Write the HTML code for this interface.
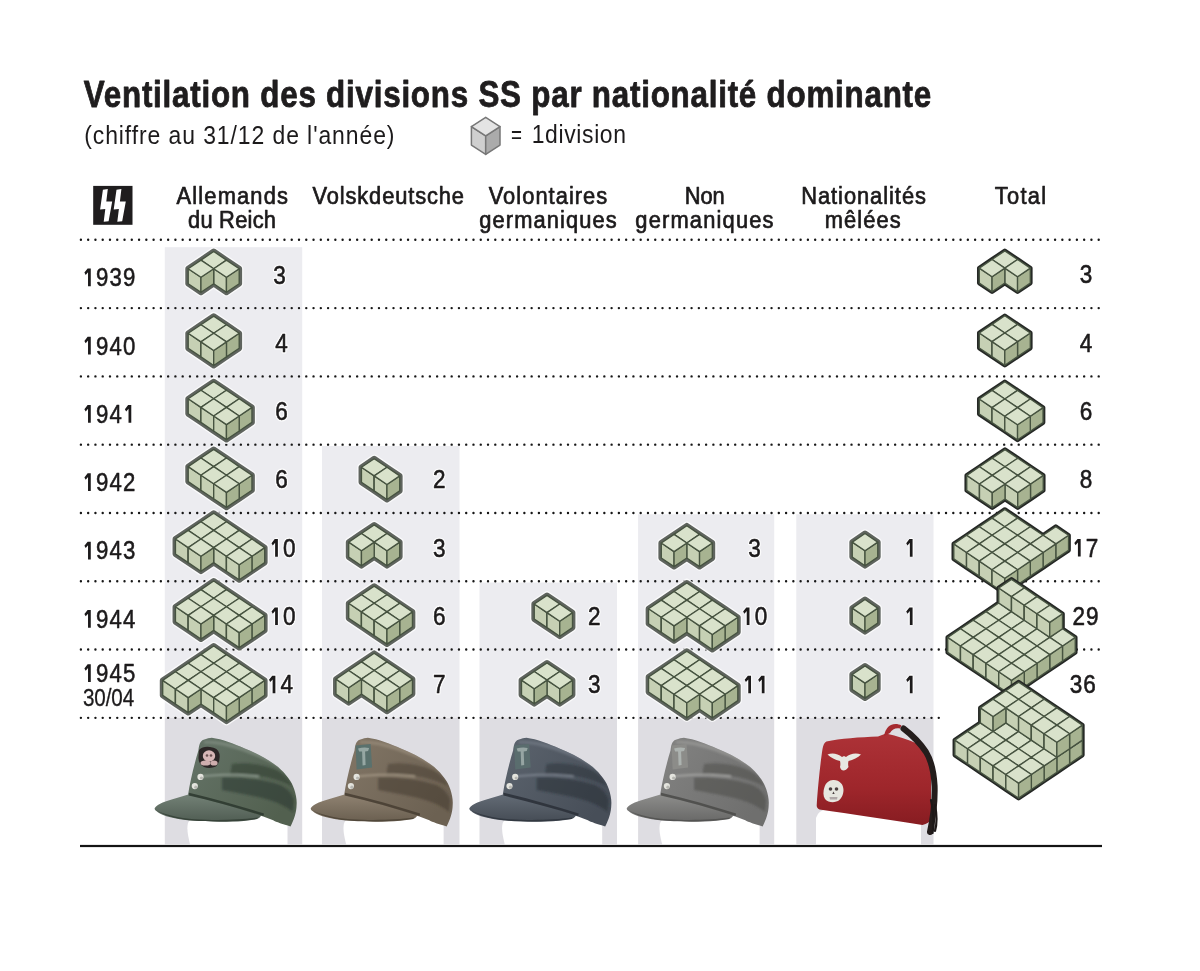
<!DOCTYPE html>
<html><head><meta charset="utf-8"><style>
html,body{margin:0;padding:0;background:#fff;width:1200px;height:971px;overflow:hidden}
svg{display:block;font-family:"Liberation Sans", sans-serif;will-change:transform}
</style></head><body>
<svg width="1200" height="971" viewBox="0 0 1200 971"><defs>
<filter id="soft" x="-10%" y="-10%" width="120%" height="120%"><feGaussianBlur stdDeviation="0.9"/></filter>
<clipPath id="crownclip"><path d="M188.1,794.4 C190,782 194,765 198.4,750.6 C199,745 200,741 203.6,739.8 C207,738.4 209.5,737.7 211.8,737.7 C222,739 235,744 244.7,748.5 C255,752.5 268,759 278.1,767.1 C286,774 292,782 294.2,789.3 C296,795 297,800 296.6,805 C296.5,812 294,820 290.5,826.4 C283,824 276,822 273.2,820.2 L263.3,816.5 L230,806 Z"/></clipPath>
<linearGradient id="vis1" x1="0" y1="0" x2="0" y2="1"><stop offset="0" stop-color="#748277"/><stop offset="1" stop-color="#505d53"/></linearGradient>
<linearGradient id="vis2" x1="0" y1="0" x2="0" y2="1"><stop offset="0" stop-color="#908372"/><stop offset="1" stop-color="#6a5f50"/></linearGradient>
<linearGradient id="vis3" x1="0" y1="0" x2="0" y2="1"><stop offset="0" stop-color="#646c76"/><stop offset="1" stop-color="#454c55"/></linearGradient>
<linearGradient id="vis4" x1="0" y1="0" x2="0" y2="1"><stop offset="0" stop-color="#8e8e8c"/><stop offset="1" stop-color="#686867"/></linearGradient>
<linearGradient id="crown1" x1="0" y1="0" x2="1" y2="0.6"><stop offset="0" stop-color="#657468"/><stop offset="1" stop-color="#52604f"/></linearGradient>
<linearGradient id="crown2" x1="0" y1="0" x2="1" y2="0.6"><stop offset="0" stop-color="#827666"/><stop offset="1" stop-color="#6c6152"/></linearGradient>
<linearGradient id="crown3" x1="0" y1="0" x2="1" y2="0.6"><stop offset="0" stop-color="#5c646e"/><stop offset="1" stop-color="#474e58"/></linearGradient>
<linearGradient id="crown4" x1="0" y1="0" x2="1" y2="0.6"><stop offset="0" stop-color="#838382"/><stop offset="1" stop-color="#6f6f6e"/></linearGradient>
<linearGradient id="fez" x1="0" y1="0" x2="0" y2="1"><stop offset="0" stop-color="#ad3237"/><stop offset="0.6" stop-color="#9e262b"/><stop offset="1" stop-color="#871c21"/></linearGradient>
</defs><rect x="164.8" y="247.2" width="137.4" height="470.63" fill="#ececf0"/><rect x="164.8" y="717.83" width="137.4" height="126.47" fill="#dedde2"/><rect x="322" y="445.97" width="137.5" height="271.86" fill="#ececf0"/><rect x="322" y="717.83" width="137.5" height="126.47" fill="#dedde2"/><rect x="479.5" y="582.55" width="137.5" height="135.28" fill="#ececf0"/><rect x="479.5" y="717.83" width="137.5" height="126.47" fill="#dedde2"/><rect x="638.1" y="514.26" width="136.1" height="203.57" fill="#ececf0"/><rect x="638.1" y="717.83" width="136.1" height="126.47" fill="#dedde2"/><rect x="796.3" y="514.26" width="137.2" height="203.57" fill="#ececf0"/><rect x="796.3" y="717.83" width="137.2" height="126.47" fill="#dedde2"/><line x1="80.9" y1="239.8" x2="1099.5" y2="239.8" stroke="#161616" stroke-width="2.4" stroke-linecap="round" stroke-dasharray="0 7.27"/><line x1="80.9" y1="308.09" x2="1099.5" y2="308.09" stroke="#161616" stroke-width="2.4" stroke-linecap="round" stroke-dasharray="0 7.27"/><line x1="80.9" y1="376.38" x2="1099.5" y2="376.38" stroke="#161616" stroke-width="2.4" stroke-linecap="round" stroke-dasharray="0 7.27"/><line x1="80.9" y1="444.67" x2="1099.5" y2="444.67" stroke="#161616" stroke-width="2.4" stroke-linecap="round" stroke-dasharray="0 7.27"/><line x1="80.9" y1="512.96" x2="1099.5" y2="512.96" stroke="#161616" stroke-width="2.4" stroke-linecap="round" stroke-dasharray="0 7.27"/><line x1="80.9" y1="581.25" x2="1099.5" y2="581.25" stroke="#161616" stroke-width="2.4" stroke-linecap="round" stroke-dasharray="0 7.27"/><line x1="80.9" y1="649.54" x2="1099.5" y2="649.54" stroke="#161616" stroke-width="2.4" stroke-linecap="round" stroke-dasharray="0 7.27"/><line x1="80.9" y1="717.83" x2="939" y2="717.83" stroke="#161616" stroke-width="2.4" stroke-linecap="round" stroke-dasharray="0 7.27"/><rect x="80" y="844.9" width="1022" height="2.2" fill="#141414"/><text transform="matrix(0.86,0,0,1,83.8,107.2)" x="0" y="0" font-size="36.5" font-weight="bold" fill="#1f1d1e" letter-spacing="0.88" stroke="#1f1d1e" stroke-width="0.8" stroke-linejoin="round">Ventilation des divisions SS par nationalité dominante</text><text transform="matrix(0.9,0,0,1,84.2,143.8)" x="0" y="0" font-size="25.5" font-weight="normal" fill="#1c1a1b" letter-spacing="1.02">(chiffre au 31/12 de l'année)</text><text x="511" y="142.5" font-size="25.5" font-weight="normal" fill="#1c1a1b" textLength="10.98" lengthAdjust="spacingAndGlyphs">=</text><text transform="matrix(0.9,0,0,1,531.7,142.5)" x="0" y="0" font-size="25.5" font-weight="normal" fill="#1c1a1b" letter-spacing="0.7">1division</text><g stroke="#777" stroke-width="1.5" stroke-linejoin="round"><polygon fill="#cfcfcf" points="471.4,126.6 485.7,135.9 485.7,154.4 471.4,145.1"/><polygon fill="#ababab" points="485.7,135.9 500,126.6 500,145.1 485.7,154.4"/><polygon fill="#e4e4e4" points="485.7,117.3 500,126.6 485.7,135.9 471.4,126.6"/></g><rect x="93.2" y="185.9" width="39.3" height="38.9" fill="#1f1d1e"/><polygon fill="#fff" points="102.9,189.8 107.8,189 106.3,201.6 112.2,201.6 108.6,221.2 103.7,221.7 105.3,209.1 100.1,209.4"/><polygon fill="#fff" points="116.5,189.8 121.4,189 119.9,201.6 125.8,201.6 122.2,221.2 117.3,221.7 118.9,209.1 113.7,209.4"/><text transform="matrix(0.9,0,0,1,176.5,203.9)" x="0" y="0" font-size="24.3" font-weight="normal" fill="#1c1a1b" letter-spacing="1.3" stroke="#1c1a1b" stroke-width="0.7" stroke-linejoin="round">Allemands</text><text transform="matrix(0.9,0,0,1,188,228.2)" x="0" y="0" font-size="24.3" font-weight="normal" fill="#1c1a1b" letter-spacing="0.27" stroke="#1c1a1b" stroke-width="0.7" stroke-linejoin="round">du Reich</text><text transform="matrix(0.9,0,0,1,312.5,203.9)" x="0" y="0" font-size="24.3" font-weight="normal" fill="#1c1a1b" letter-spacing="0.97" stroke="#1c1a1b" stroke-width="0.7" stroke-linejoin="round">Volskdeutsche</text><text transform="matrix(0.9,0,0,1,488.7,203.9)" x="0" y="0" font-size="24.3" font-weight="normal" fill="#1c1a1b" letter-spacing="1.15" stroke="#1c1a1b" stroke-width="0.7" stroke-linejoin="round">Volontaires</text><text transform="matrix(0.9,0,0,1,479.3,228.2)" x="0" y="0" font-size="24.3" font-weight="normal" fill="#1c1a1b" letter-spacing="1.22" stroke="#1c1a1b" stroke-width="0.7" stroke-linejoin="round">germaniques</text><text transform="matrix(0.9,0,0,1,684.7,203.9)" x="0" y="0" font-size="24.3" font-weight="normal" fill="#1c1a1b" letter-spacing="-0.07" stroke="#1c1a1b" stroke-width="0.7" stroke-linejoin="round">Non</text><text transform="matrix(0.9,0,0,1,635.3,228.2)" x="0" y="0" font-size="24.3" font-weight="normal" fill="#1c1a1b" letter-spacing="1.31" stroke="#1c1a1b" stroke-width="0.7" stroke-linejoin="round">germaniques</text><text transform="matrix(0.9,0,0,1,801.2,203.9)" x="0" y="0" font-size="24.3" font-weight="normal" fill="#1c1a1b" letter-spacing="1.06" stroke="#1c1a1b" stroke-width="0.7" stroke-linejoin="round">Nationalités</text><text transform="matrix(0.9,0,0,1,824.7,228.2)" x="0" y="0" font-size="24.3" font-weight="normal" fill="#1c1a1b" letter-spacing="1.22" stroke="#1c1a1b" stroke-width="0.7" stroke-linejoin="round">mêlées</text><text transform="matrix(0.9,0,0,1,994.8,203.9)" x="0" y="0" font-size="24.3" font-weight="normal" fill="#1c1a1b" letter-spacing="1.4" stroke="#1c1a1b" stroke-width="0.7" stroke-linejoin="round">Total</text><polygon fill="#1c1a1b" points="87.62,268.5 90.78,268.5 90.78,286.25 88.03,286.25 88.03,272.2 85.7,274.9 84.4,272.6"/><text x="96.04" y="286.25" font-size="25.8" font-weight="normal" fill="#1c1a1b" textLength="12.34" lengthAdjust="spacingAndGlyphs" stroke="#1c1a1b" stroke-width="0.55" stroke-linejoin="round">9</text><text x="109.54" y="286.25" font-size="25.8" font-weight="normal" fill="#1c1a1b" textLength="12.34" lengthAdjust="spacingAndGlyphs" stroke="#1c1a1b" stroke-width="0.55" stroke-linejoin="round">3</text><text x="123.04" y="286.25" font-size="25.8" font-weight="normal" fill="#1c1a1b" textLength="12.34" lengthAdjust="spacingAndGlyphs" stroke="#1c1a1b" stroke-width="0.55" stroke-linejoin="round">9</text><polygon fill="#1c1a1b" points="87.62,336.79 90.78,336.79 90.78,354.54 88.03,354.54 88.03,340.49 85.7,343.19 84.4,340.89"/><text x="96.04" y="354.54" font-size="25.8" font-weight="normal" fill="#1c1a1b" textLength="12.34" lengthAdjust="spacingAndGlyphs" stroke="#1c1a1b" stroke-width="0.55" stroke-linejoin="round">9</text><text x="109.54" y="354.54" font-size="25.8" font-weight="normal" fill="#1c1a1b" textLength="12.34" lengthAdjust="spacingAndGlyphs" stroke="#1c1a1b" stroke-width="0.55" stroke-linejoin="round">4</text><text x="123.04" y="354.54" font-size="25.8" font-weight="normal" fill="#1c1a1b" textLength="12.34" lengthAdjust="spacingAndGlyphs" stroke="#1c1a1b" stroke-width="0.55" stroke-linejoin="round">0</text><polygon fill="#1c1a1b" points="87.62,405.07 90.78,405.07 90.78,422.82 88.03,422.82 88.03,408.77 85.7,411.47 84.4,409.18"/><text x="96.04" y="422.82" font-size="25.8" font-weight="normal" fill="#1c1a1b" textLength="12.34" lengthAdjust="spacingAndGlyphs" stroke="#1c1a1b" stroke-width="0.55" stroke-linejoin="round">9</text><text x="109.54" y="422.82" font-size="25.8" font-weight="normal" fill="#1c1a1b" textLength="12.34" lengthAdjust="spacingAndGlyphs" stroke="#1c1a1b" stroke-width="0.55" stroke-linejoin="round">4</text><polygon fill="#1c1a1b" points="128.12,405.07 131.28,405.07 131.28,422.82 128.53,422.82 128.53,408.77 126.2,411.47 124.9,409.18"/><polygon fill="#1c1a1b" points="87.62,473.37 90.78,473.37 90.78,491.12 88.03,491.12 88.03,477.07 85.7,479.77 84.4,477.47"/><text x="96.04" y="491.12" font-size="25.8" font-weight="normal" fill="#1c1a1b" textLength="12.34" lengthAdjust="spacingAndGlyphs" stroke="#1c1a1b" stroke-width="0.55" stroke-linejoin="round">9</text><text x="109.54" y="491.12" font-size="25.8" font-weight="normal" fill="#1c1a1b" textLength="12.34" lengthAdjust="spacingAndGlyphs" stroke="#1c1a1b" stroke-width="0.55" stroke-linejoin="round">4</text><text x="123.04" y="491.12" font-size="25.8" font-weight="normal" fill="#1c1a1b" textLength="12.34" lengthAdjust="spacingAndGlyphs" stroke="#1c1a1b" stroke-width="0.55" stroke-linejoin="round">2</text><polygon fill="#1c1a1b" points="87.62,541.65 90.78,541.65 90.78,559.4 88.03,559.4 88.03,545.36 85.7,548.05 84.4,545.75"/><text x="96.04" y="559.4" font-size="25.8" font-weight="normal" fill="#1c1a1b" textLength="12.34" lengthAdjust="spacingAndGlyphs" stroke="#1c1a1b" stroke-width="0.55" stroke-linejoin="round">9</text><text x="109.54" y="559.4" font-size="25.8" font-weight="normal" fill="#1c1a1b" textLength="12.34" lengthAdjust="spacingAndGlyphs" stroke="#1c1a1b" stroke-width="0.55" stroke-linejoin="round">4</text><text x="123.04" y="559.4" font-size="25.8" font-weight="normal" fill="#1c1a1b" textLength="12.34" lengthAdjust="spacingAndGlyphs" stroke="#1c1a1b" stroke-width="0.55" stroke-linejoin="round">3</text><polygon fill="#1c1a1b" points="87.62,609.94 90.78,609.94 90.78,627.69 88.03,627.69 88.03,613.64 85.7,616.34 84.4,614.04"/><text x="96.04" y="627.69" font-size="25.8" font-weight="normal" fill="#1c1a1b" textLength="12.34" lengthAdjust="spacingAndGlyphs" stroke="#1c1a1b" stroke-width="0.55" stroke-linejoin="round">9</text><text x="109.54" y="627.69" font-size="25.8" font-weight="normal" fill="#1c1a1b" textLength="12.34" lengthAdjust="spacingAndGlyphs" stroke="#1c1a1b" stroke-width="0.55" stroke-linejoin="round">4</text><text x="123.04" y="627.69" font-size="25.8" font-weight="normal" fill="#1c1a1b" textLength="12.34" lengthAdjust="spacingAndGlyphs" stroke="#1c1a1b" stroke-width="0.55" stroke-linejoin="round">4</text><polygon fill="#1c1a1b" points="87.62,664.35 90.78,664.35 90.78,682.1 88.03,682.1 88.03,668.05 85.7,670.75 84.4,668.45"/><text x="96.04" y="682.1" font-size="25.8" font-weight="normal" fill="#1c1a1b" textLength="12.34" lengthAdjust="spacingAndGlyphs" stroke="#1c1a1b" stroke-width="0.55" stroke-linejoin="round">9</text><text x="109.54" y="682.1" font-size="25.8" font-weight="normal" fill="#1c1a1b" textLength="12.34" lengthAdjust="spacingAndGlyphs" stroke="#1c1a1b" stroke-width="0.55" stroke-linejoin="round">4</text><text x="123.04" y="682.1" font-size="25.8" font-weight="normal" fill="#1c1a1b" textLength="12.34" lengthAdjust="spacingAndGlyphs" stroke="#1c1a1b" stroke-width="0.55" stroke-linejoin="round">5</text><text transform="matrix(0.86,0,0,1,83,706.2)" x="0" y="0" font-size="24" font-weight="normal" fill="#1c1a1b" letter-spacing="-0.15" stroke="#1c1a1b" stroke-width="0.3" stroke-linejoin="round">30/04</text><g transform="translate(0,0)"><path d="M190,844.3 C188,836 186.5,829 188,823 C190,818.5 195,816 202,815.5 L287.5,815.5 L287.5,844.3 Z" fill="#fff"/><path d="M154.6,808.3 C158,803.5 166,801 175,798.5 C180,797 185,795.5 190,794 L263,812 C262,815 260,818 257,819 C248,820.5 240,821.5 232.4,821.5 C220,822 205,821.8 191.2,820.6 C175,819 163,816 158.2,812.4 C156,811 154.6,810 154.6,808.3 Z" fill="url(#vis1)"/><path d="M156,810 C163,815.5 178,819.5 195,820.8 C215,822 240,821.5 257,819 L258,817.6 C240,820 215,820.5 195,819.2 C178,818 164,814.5 156,810 Z" fill="#2c372e" opacity="0.7"/><path d="M188.1,794.4 C190,782 194,765 198.4,750.6 C199,745 200,741 203.6,739.8 C207,738.4 209.5,737.7 211.8,737.7 C222,739 235,744 244.7,748.5 C255,752.5 268,759 278.1,767.1 C286,774 292,782 294.2,789.3 C296,795 297,800 296.6,805 C296.5,812 294,820 290.5,826.4 C283,824 276,822 273.2,820.2 L263.3,816.5 L230,806 Z" fill="url(#crown1)"/><g clip-path="url(#crownclip)" filter="url(#soft)"><path d="M222,777.5 C240,777 262,779 280,785 C287,788 292,793 294,800 L293,812 C285,805 272,800 258,797 C245,794 232,792 222,790 Z" fill="#2c372e" opacity="0.55"/><path d="M232,764 C246,762 262,764 276,770 C284,774 289,779 292,786 C282,781 270,777 256,775.5 C246,774.5 238,775 230,775.5 Z" fill="#2c372e" opacity="0.5"/><path d="M201,775.5 C220,773 240,773 259,775.5 L259,777.6 C240,775.2 220,775.4 201,777.6 Z" fill="#8a978b" opacity="0.95"/><path d="M204,741 C220,739.5 240,745 258,752 C270,757 281,765 289,775 C279,767 268,761 255,756 C238,749 220,743.5 204,743.5 Z" fill="#8a978b" opacity="0.55"/></g><path d="M189,792.8 C215,799 240,806 264,813.5 L263.5,816 C240,808.5 214,801.5 188.6,795.6 Z" fill="#2c372e" opacity="0.85"/><circle cx="200.5" cy="776.9" r="3.1" fill="#e4e4de"/><circle cx="194.8" cy="786.1" r="3.1" fill="#e4e4de"/><circle cx="201.5" cy="778" r="1.6" fill="#9a9a94" opacity="0.6"/><circle cx="195.8" cy="787.2" r="1.6" fill="#9a9a94" opacity="0.6"/><path d="M199,750 Q203,746 210,747 Q218,747.5 219.5,754 Q220.5,762 216,766.5 Q210,769 204,767 Q198,764 198.5,757 Z" fill="#2c2626"/><ellipse cx="209" cy="756" rx="6.2" ry="5.8" fill="#d7b6b6"/><ellipse cx="205.5" cy="763" rx="5" ry="2.6" fill="#cfaeae"/><ellipse cx="214" cy="763" rx="3.6" ry="2.6" fill="#cfaeae"/><circle cx="207" cy="755.5" r="1.3" fill="#6a5050"/><circle cx="211" cy="755.5" r="1.3" fill="#6a5050"/></g><g transform="translate(156.1,0)"><path d="M190,844.3 C188,836 186.5,829 188,823 C190,818.5 195,816 202,815.5 L287.5,815.5 L287.5,844.3 Z" fill="#fff"/><path d="M154.6,808.3 C158,803.5 166,801 175,798.5 C180,797 185,795.5 190,794 L263,812 C262,815 260,818 257,819 C248,820.5 240,821.5 232.4,821.5 C220,822 205,821.8 191.2,820.6 C175,819 163,816 158.2,812.4 C156,811 154.6,810 154.6,808.3 Z" fill="url(#vis2)"/><path d="M156,810 C163,815.5 178,819.5 195,820.8 C215,822 240,821.5 257,819 L258,817.6 C240,820 215,820.5 195,819.2 C178,818 164,814.5 156,810 Z" fill="#463d31" opacity="0.7"/><path d="M188.1,794.4 C190,782 194,765 198.4,750.6 C199,745 200,741 203.6,739.8 C207,738.4 209.5,737.7 211.8,737.7 C222,739 235,744 244.7,748.5 C255,752.5 268,759 278.1,767.1 C286,774 292,782 294.2,789.3 C296,795 297,800 296.6,805 C296.5,812 294,820 290.5,826.4 C283,824 276,822 273.2,820.2 L263.3,816.5 L230,806 Z" fill="url(#crown2)"/><g clip-path="url(#crownclip)" filter="url(#soft)"><path d="M222,777.5 C240,777 262,779 280,785 C287,788 292,793 294,800 L293,812 C285,805 272,800 258,797 C245,794 232,792 222,790 Z" fill="#463d31" opacity="0.55"/><path d="M232,764 C246,762 262,764 276,770 C284,774 289,779 292,786 C282,781 270,777 256,775.5 C246,774.5 238,775 230,775.5 Z" fill="#463d31" opacity="0.5"/><path d="M201,775.5 C220,773 240,773 259,775.5 L259,777.6 C240,775.2 220,775.4 201,777.6 Z" fill="#a09482" opacity="0.95"/><path d="M204,741 C220,739.5 240,745 258,752 C270,757 281,765 289,775 C279,767 268,761 255,756 C238,749 220,743.5 204,743.5 Z" fill="#a09482" opacity="0.55"/></g><path d="M189,792.8 C215,799 240,806 264,813.5 L263.5,816 C240,808.5 214,801.5 188.6,795.6 Z" fill="#463d31" opacity="0.85"/><circle cx="200.5" cy="776.9" r="3.1" fill="#e4e4de"/><circle cx="194.8" cy="786.1" r="3.1" fill="#e4e4de"/><circle cx="201.5" cy="778" r="1.6" fill="#9a9a94" opacity="0.6"/><circle cx="195.8" cy="787.2" r="1.6" fill="#9a9a94" opacity="0.6"/><path d="M199.5,745.5 L214.5,744 L216,767.5 L200.5,769.5 Z" fill="#5a716d"/><path d="M202,748.5 Q207.5,747 213,748 L212,751 L209,751.5 L209.5,765 L206.5,765.5 L206,751.5 L203,751.5 Z" fill="#c9d3d0" opacity="0.55"/></g><g transform="translate(314.7,0)"><path d="M190,844.3 C188,836 186.5,829 188,823 C190,818.5 195,816 202,815.5 L287.5,815.5 L287.5,844.3 Z" fill="#fff"/><path d="M154.6,808.3 C158,803.5 166,801 175,798.5 C180,797 185,795.5 190,794 L263,812 C262,815 260,818 257,819 C248,820.5 240,821.5 232.4,821.5 C220,822 205,821.8 191.2,820.6 C175,819 163,816 158.2,812.4 C156,811 154.6,810 154.6,808.3 Z" fill="url(#vis3)"/><path d="M156,810 C163,815.5 178,819.5 195,820.8 C215,822 240,821.5 257,819 L258,817.6 C240,820 215,820.5 195,819.2 C178,818 164,814.5 156,810 Z" fill="#2a2f37" opacity="0.7"/><path d="M188.1,794.4 C190,782 194,765 198.4,750.6 C199,745 200,741 203.6,739.8 C207,738.4 209.5,737.7 211.8,737.7 C222,739 235,744 244.7,748.5 C255,752.5 268,759 278.1,767.1 C286,774 292,782 294.2,789.3 C296,795 297,800 296.6,805 C296.5,812 294,820 290.5,826.4 C283,824 276,822 273.2,820.2 L263.3,816.5 L230,806 Z" fill="url(#crown3)"/><g clip-path="url(#crownclip)" filter="url(#soft)"><path d="M222,777.5 C240,777 262,779 280,785 C287,788 292,793 294,800 L293,812 C285,805 272,800 258,797 C245,794 232,792 222,790 Z" fill="#2a2f37" opacity="0.55"/><path d="M232,764 C246,762 262,764 276,770 C284,774 289,779 292,786 C282,781 270,777 256,775.5 C246,774.5 238,775 230,775.5 Z" fill="#2a2f37" opacity="0.5"/><path d="M201,775.5 C220,773 240,773 259,775.5 L259,777.6 C240,775.2 220,775.4 201,777.6 Z" fill="#7a828c" opacity="0.95"/><path d="M204,741 C220,739.5 240,745 258,752 C270,757 281,765 289,775 C279,767 268,761 255,756 C238,749 220,743.5 204,743.5 Z" fill="#7a828c" opacity="0.55"/></g><path d="M189,792.8 C215,799 240,806 264,813.5 L263.5,816 C240,808.5 214,801.5 188.6,795.6 Z" fill="#2a2f37" opacity="0.85"/><circle cx="200.5" cy="776.9" r="3.1" fill="#e4e4de"/><circle cx="194.8" cy="786.1" r="3.1" fill="#e4e4de"/><circle cx="201.5" cy="778" r="1.6" fill="#9a9a94" opacity="0.6"/><circle cx="195.8" cy="787.2" r="1.6" fill="#9a9a94" opacity="0.6"/><path d="M199.5,745.5 L214.5,744 L216,767.5 L200.5,769.5 Z" fill="#5a6d6e"/><path d="M202,748.5 Q207.5,747 213,748 L212,751 L209,751.5 L209.5,765 L206.5,765.5 L206,751.5 L203,751.5 Z" fill="#c9d3d0" opacity="0.55"/></g><g transform="translate(472.1,0)"><path d="M190,844.3 C188,836 186.5,829 188,823 C190,818.5 195,816 202,815.5 L287.5,815.5 L287.5,844.3 Z" fill="#fff"/><path d="M154.6,808.3 C158,803.5 166,801 175,798.5 C180,797 185,795.5 190,794 L263,812 C262,815 260,818 257,819 C248,820.5 240,821.5 232.4,821.5 C220,822 205,821.8 191.2,820.6 C175,819 163,816 158.2,812.4 C156,811 154.6,810 154.6,808.3 Z" fill="url(#vis4)"/><path d="M156,810 C163,815.5 178,819.5 195,820.8 C215,822 240,821.5 257,819 L258,817.6 C240,820 215,820.5 195,819.2 C178,818 164,814.5 156,810 Z" fill="#4a4a48" opacity="0.7"/><path d="M188.1,794.4 C190,782 194,765 198.4,750.6 C199,745 200,741 203.6,739.8 C207,738.4 209.5,737.7 211.8,737.7 C222,739 235,744 244.7,748.5 C255,752.5 268,759 278.1,767.1 C286,774 292,782 294.2,789.3 C296,795 297,800 296.6,805 C296.5,812 294,820 290.5,826.4 C283,824 276,822 273.2,820.2 L263.3,816.5 L230,806 Z" fill="url(#crown4)"/><g clip-path="url(#crownclip)" filter="url(#soft)"><path d="M222,777.5 C240,777 262,779 280,785 C287,788 292,793 294,800 L293,812 C285,805 272,800 258,797 C245,794 232,792 222,790 Z" fill="#4a4a48" opacity="0.55"/><path d="M232,764 C246,762 262,764 276,770 C284,774 289,779 292,786 C282,781 270,777 256,775.5 C246,774.5 238,775 230,775.5 Z" fill="#4a4a48" opacity="0.5"/><path d="M201,775.5 C220,773 240,773 259,775.5 L259,777.6 C240,775.2 220,775.4 201,777.6 Z" fill="#a3a3a1" opacity="0.95"/><path d="M204,741 C220,739.5 240,745 258,752 C270,757 281,765 289,775 C279,767 268,761 255,756 C238,749 220,743.5 204,743.5 Z" fill="#a3a3a1" opacity="0.55"/></g><path d="M189,792.8 C215,799 240,806 264,813.5 L263.5,816 C240,808.5 214,801.5 188.6,795.6 Z" fill="#4a4a48" opacity="0.85"/><circle cx="200.5" cy="776.9" r="3.1" fill="#e4e4de"/><circle cx="194.8" cy="786.1" r="3.1" fill="#e4e4de"/><circle cx="201.5" cy="778" r="1.6" fill="#9a9a94" opacity="0.6"/><circle cx="195.8" cy="787.2" r="1.6" fill="#9a9a94" opacity="0.6"/><path d="M199.5,745.5 L214.5,744 L216,767.5 L200.5,769.5 Z" fill="#8c8c89"/><path d="M202,748.5 Q207.5,747 213,748 L212,751 L209,751.5 L209.5,765 L206.5,765.5 L206,751.5 L203,751.5 Z" fill="#c9d3d0" opacity="0.55"/></g><path d="M816,844.3 L816,818 Q818,810 828,809 L921,812 L921,844.3 Z" fill="#fff"/><path d="M826.4,741.4 C840,738.5 860,737 878,736.4 L886,733.5 C897,736 908,739.5 918,744 C925,747 929,751 930.2,757 C930.8,762 931,768 931,775 L931,819 C930,822 927,824 922.4,824.9 C890,820 850,814 819.5,809.6 C817.5,808.5 816.7,807 816.7,805.4 C818,785 820.5,762 822.5,749 C823.2,744.5 824.5,742.2 826.4,741.4 Z" fill="url(#fez)"/><path d="M884,736 C885,731 887,727 891,725 C894,723.5 898,723.5 901.5,725.5 L900,728.5 C896,727.5 892,729 890,733 Z" fill="#a52a2f"/><path d="M903.5,728.5 C912,735 920,743 926,752 C931,760 933.8,771 934.6,786 C935,801 933.5,816 930,832" fill="none" stroke="#241d1c" stroke-width="6" stroke-linecap="round"/><path d="M931,800 C933.5,812 935,822 932.5,833 M935,805 C937,815 937,824 935,831" fill="none" stroke="#1d1818" stroke-width="2.2" stroke-linecap="round"/><path d="M827.5,754.5 C832,752.5 838,753.5 842,757 L844,756 L846,757 C850,753.5 856,752.5 861,754.5 C858,757.5 853,760 848.5,761 C848,763 848,765 848.5,767 C847,769.5 845,770.5 843.5,770.5 C842,770.5 840.5,769.5 840,767 C840.5,765 840.5,763 840,761 C835,760 831,757.5 827.5,754.5 Z" fill="#e8e8e2"/><path d="M833,780 C839,779.5 843.5,784 843.5,790 C843.5,795 841,799 838,801 C834,803 828,802.5 825,799 C823,796 823,791 824.5,787 C826,782.5 829,780.3 833,780 Z" fill="#e6e6df"/><circle cx="830.5" cy="789" r="1.8" fill="#4a4040"/><circle cx="836.5" cy="789" r="1.8" fill="#4a4040"/><path d="M833.5,791.5 L832.3,794 L834.7,794 Z" fill="#4a4040"/><path d="M829.5,797 L837.5,797 L837,799.5 L830,799.5 Z" fill="#b0a8a8"/><path d="M200.95,260.09 L200.95,260.09 L188.19,268.69 L188.19,283.71 L200.95,292.31 L213.7,283.71 L226.45,292.31 L239.21,283.71 L239.21,268.69 L226.45,260.09 L226.45,260.09 L213.7,251.49 L200.95,260.09Z" fill="none" stroke="#ffffff" stroke-opacity="0.75" stroke-width="8.4" stroke-linejoin="round"/><path d="M200.95,260.09 L200.95,260.09 L188.19,268.69 L188.19,283.71 L200.95,292.31 L213.7,283.71 L226.45,292.31 L239.21,283.71 L239.21,268.69 L226.45,260.09 L226.45,260.09 L213.7,251.49 L200.95,260.09Z" fill="#5f645e" stroke="#5f645e" stroke-width="5.8" stroke-linejoin="round"/><g stroke="#465340" stroke-width="1.35" stroke-linejoin="round"><polygon fill="#c6d0b4" points="200.95,260.1 213.7,268.7 213.7,283.7 200.95,275.1"/><polygon fill="#a7b391" points="213.7,268.7 226.45,260.1 226.45,275.1 213.7,283.7"/><polygon fill="#d9e2cb" points="213.7,251.5 226.45,260.1 213.7,268.7 200.95,260.1"/><polygon fill="#c6d0b4" points="213.7,268.7 226.45,277.3 226.45,292.3 213.7,283.7"/><polygon fill="#a7b391" points="226.45,277.3 239.2,268.7 239.2,283.7 226.45,292.3"/><polygon fill="#d9e2cb" points="226.45,260.1 239.2,268.7 226.45,277.3 213.7,268.7"/><polygon fill="#c6d0b4" points="188.2,268.7 200.95,277.3 200.95,292.3 188.2,283.7"/><polygon fill="#a7b391" points="200.95,277.3 213.7,268.7 213.7,283.7 200.95,292.3"/><polygon fill="#d9e2cb" points="200.95,260.1 213.7,268.7 200.95,277.3 188.2,268.7"/></g><path d="M200.95,324.69 L188.19,333.29 L188.19,348.31 L200.95,356.91 L200.95,356.91 L213.7,365.51 L226.45,356.91 L226.45,356.91 L239.21,348.31 L239.21,333.29 L226.45,324.69 L226.45,324.69 L213.7,316.09 L200.95,324.69 L200.95,324.69Z" fill="none" stroke="#ffffff" stroke-opacity="0.75" stroke-width="8.4" stroke-linejoin="round"/><path d="M200.95,324.69 L188.19,333.29 L188.19,348.31 L200.95,356.91 L200.95,356.91 L213.7,365.51 L226.45,356.91 L226.45,356.91 L239.21,348.31 L239.21,333.29 L226.45,324.69 L226.45,324.69 L213.7,316.09 L200.95,324.69 L200.95,324.69Z" fill="#5f645e" stroke="#5f645e" stroke-width="5.8" stroke-linejoin="round"/><g stroke="#465340" stroke-width="1.35" stroke-linejoin="round"><polygon fill="#c6d0b4" points="200.95,324.7 213.7,333.3 213.7,348.3 200.95,339.7"/><polygon fill="#a7b391" points="213.7,333.3 226.45,324.7 226.45,339.7 213.7,348.3"/><polygon fill="#d9e2cb" points="213.7,316.1 226.45,324.7 213.7,333.3 200.95,324.7"/><polygon fill="#c6d0b4" points="213.7,333.3 226.45,341.9 226.45,356.9 213.7,348.3"/><polygon fill="#a7b391" points="226.45,341.9 239.2,333.3 239.2,348.3 226.45,356.9"/><polygon fill="#d9e2cb" points="226.45,324.7 239.2,333.3 226.45,341.9 213.7,333.3"/><polygon fill="#c6d0b4" points="188.2,333.3 200.95,341.9 200.95,356.9 188.2,348.3"/><polygon fill="#a7b391" points="200.95,341.9 213.7,333.3 213.7,348.3 200.95,356.9"/><polygon fill="#d9e2cb" points="200.95,324.7 213.7,333.3 200.95,341.9 188.2,333.3"/><polygon fill="#c6d0b4" points="200.95,341.9 213.7,350.5 213.7,365.5 200.95,356.9"/><polygon fill="#a7b391" points="213.7,350.5 226.45,341.9 226.45,356.9 213.7,365.5"/><polygon fill="#d9e2cb" points="213.7,333.3 226.45,341.9 213.7,350.5 200.95,341.9"/></g><path d="M200.95,390.19 L188.19,398.79 L188.19,413.81 L200.95,422.41 L200.95,422.41 L213.69,431.01 L213.69,431.01 L226.45,439.61 L239.21,431.01 L239.21,431.01 L251.96,422.41 L251.96,407.39 L239.2,398.79 L239.2,398.79 L226.45,390.19 L226.45,390.19 L213.7,381.59 L200.95,390.19 L200.95,390.19Z" fill="none" stroke="#ffffff" stroke-opacity="0.75" stroke-width="8.4" stroke-linejoin="round"/><path d="M200.95,390.19 L188.19,398.79 L188.19,413.81 L200.95,422.41 L200.95,422.41 L213.69,431.01 L213.69,431.01 L226.45,439.61 L239.21,431.01 L239.21,431.01 L251.96,422.41 L251.96,407.39 L239.2,398.79 L239.2,398.79 L226.45,390.19 L226.45,390.19 L213.7,381.59 L200.95,390.19 L200.95,390.19Z" fill="#5f645e" stroke="#5f645e" stroke-width="5.8" stroke-linejoin="round"/><g stroke="#465340" stroke-width="1.35" stroke-linejoin="round"><polygon fill="#c6d0b4" points="200.95,390.2 213.7,398.8 213.7,413.8 200.95,405.2"/><polygon fill="#a7b391" points="213.7,398.8 226.45,390.2 226.45,405.2 213.7,413.8"/><polygon fill="#d9e2cb" points="213.7,381.6 226.45,390.2 213.7,398.8 200.95,390.2"/><polygon fill="#c6d0b4" points="213.7,398.8 226.45,407.4 226.45,422.4 213.7,413.8"/><polygon fill="#a7b391" points="226.45,407.4 239.2,398.8 239.2,413.8 226.45,422.4"/><polygon fill="#d9e2cb" points="226.45,390.2 239.2,398.8 226.45,407.4 213.7,398.8"/><polygon fill="#c6d0b4" points="188.2,398.8 200.95,407.4 200.95,422.4 188.2,413.8"/><polygon fill="#a7b391" points="200.95,407.4 213.7,398.8 213.7,413.8 200.95,422.4"/><polygon fill="#d9e2cb" points="200.95,390.2 213.7,398.8 200.95,407.4 188.2,398.8"/><polygon fill="#c6d0b4" points="226.45,407.4 239.2,416 239.2,431 226.45,422.4"/><polygon fill="#a7b391" points="239.2,416 251.95,407.4 251.95,422.4 239.2,431"/><polygon fill="#d9e2cb" points="239.2,398.8 251.95,407.4 239.2,416 226.45,407.4"/><polygon fill="#c6d0b4" points="200.95,407.4 213.7,416 213.7,431 200.95,422.4"/><polygon fill="#a7b391" points="213.7,416 226.45,407.4 226.45,422.4 213.7,431"/><polygon fill="#d9e2cb" points="213.7,398.8 226.45,407.4 213.7,416 200.95,407.4"/><polygon fill="#c6d0b4" points="213.7,416 226.45,424.6 226.45,439.6 213.7,431"/><polygon fill="#a7b391" points="226.45,424.6 239.2,416 239.2,431 226.45,439.6"/><polygon fill="#d9e2cb" points="226.45,407.4 239.2,416 226.45,424.6 213.7,416"/></g><path d="M200.95,457.99 L188.19,466.59 L188.19,481.61 L200.95,490.21 L200.95,490.21 L213.69,498.81 L213.69,498.81 L226.45,507.41 L239.21,498.81 L239.21,498.81 L251.96,490.21 L251.96,475.19 L239.2,466.59 L239.2,466.59 L226.45,457.99 L226.45,457.99 L213.7,449.39 L200.95,457.99 L200.95,457.99Z" fill="none" stroke="#ffffff" stroke-opacity="0.75" stroke-width="8.4" stroke-linejoin="round"/><path d="M200.95,457.99 L188.19,466.59 L188.19,481.61 L200.95,490.21 L200.95,490.21 L213.69,498.81 L213.69,498.81 L226.45,507.41 L239.21,498.81 L239.21,498.81 L251.96,490.21 L251.96,475.19 L239.2,466.59 L239.2,466.59 L226.45,457.99 L226.45,457.99 L213.7,449.39 L200.95,457.99 L200.95,457.99Z" fill="#5f645e" stroke="#5f645e" stroke-width="5.8" stroke-linejoin="round"/><g stroke="#465340" stroke-width="1.35" stroke-linejoin="round"><polygon fill="#c6d0b4" points="200.95,458 213.7,466.6 213.7,481.6 200.95,473"/><polygon fill="#a7b391" points="213.7,466.6 226.45,458 226.45,473 213.7,481.6"/><polygon fill="#d9e2cb" points="213.7,449.4 226.45,458 213.7,466.6 200.95,458"/><polygon fill="#c6d0b4" points="213.7,466.6 226.45,475.2 226.45,490.2 213.7,481.6"/><polygon fill="#a7b391" points="226.45,475.2 239.2,466.6 239.2,481.6 226.45,490.2"/><polygon fill="#d9e2cb" points="226.45,458 239.2,466.6 226.45,475.2 213.7,466.6"/><polygon fill="#c6d0b4" points="188.2,466.6 200.95,475.2 200.95,490.2 188.2,481.6"/><polygon fill="#a7b391" points="200.95,475.2 213.7,466.6 213.7,481.6 200.95,490.2"/><polygon fill="#d9e2cb" points="200.95,458 213.7,466.6 200.95,475.2 188.2,466.6"/><polygon fill="#c6d0b4" points="226.45,475.2 239.2,483.8 239.2,498.8 226.45,490.2"/><polygon fill="#a7b391" points="239.2,483.8 251.95,475.2 251.95,490.2 239.2,498.8"/><polygon fill="#d9e2cb" points="239.2,466.6 251.95,475.2 239.2,483.8 226.45,475.2"/><polygon fill="#c6d0b4" points="200.95,475.2 213.7,483.8 213.7,498.8 200.95,490.2"/><polygon fill="#a7b391" points="213.7,483.8 226.45,475.2 226.45,490.2 213.7,498.8"/><polygon fill="#d9e2cb" points="213.7,466.6 226.45,475.2 213.7,483.8 200.95,475.2"/><polygon fill="#c6d0b4" points="213.7,483.8 226.45,492.4 226.45,507.4 213.7,498.8"/><polygon fill="#a7b391" points="226.45,492.4 239.2,483.8 239.2,498.8 226.45,507.4"/><polygon fill="#d9e2cb" points="226.45,475.2 239.2,483.8 226.45,492.4 213.7,483.8"/></g><path d="M361.44,467.29 L361.44,482.31 L374.19,490.91 L374.19,490.91 L386.95,499.51 L399.71,490.91 L399.71,475.89 L386.95,467.29 L374.2,458.69 L361.44,467.29Z" fill="none" stroke="#ffffff" stroke-opacity="0.75" stroke-width="8.4" stroke-linejoin="round"/><path d="M361.44,467.29 L361.44,482.31 L374.19,490.91 L374.19,490.91 L386.95,499.51 L399.71,490.91 L399.71,475.89 L386.95,467.29 L374.2,458.69 L361.44,467.29Z" fill="#5f645e" stroke="#5f645e" stroke-width="5.8" stroke-linejoin="round"/><g stroke="#465340" stroke-width="1.35" stroke-linejoin="round"><polygon fill="#c6d0b4" points="361.45,467.3 374.2,475.9 374.2,490.9 361.45,482.3"/><polygon fill="#a7b391" points="374.2,475.9 386.95,467.3 386.95,482.3 374.2,490.9"/><polygon fill="#d9e2cb" points="374.2,458.7 386.95,467.3 374.2,475.9 361.45,467.3"/><polygon fill="#c6d0b4" points="374.2,475.9 386.95,484.5 386.95,499.5 374.2,490.9"/><polygon fill="#a7b391" points="386.95,484.5 399.7,475.9 399.7,490.9 386.95,499.5"/><polygon fill="#d9e2cb" points="386.95,467.3 399.7,475.9 386.95,484.5 374.2,475.9"/></g><path d="M188.19,530.39 L188.19,530.39 L175.44,538.99 L175.44,554.01 L188.2,562.61 L188.2,562.61 L200.95,571.21 L213.7,562.61 L226.44,571.21 L226.44,571.21 L239.2,579.81 L251.96,571.21 L251.96,571.21 L264.71,562.61 L264.71,547.59 L251.95,538.99 L251.95,538.99 L239.21,530.39 L239.21,530.39 L226.46,521.79 L226.46,521.79 L213.7,513.19 L200.94,521.79 L200.94,521.79 L188.19,530.39Z" fill="none" stroke="#ffffff" stroke-opacity="0.75" stroke-width="8.4" stroke-linejoin="round"/><path d="M188.19,530.39 L188.19,530.39 L175.44,538.99 L175.44,554.01 L188.2,562.61 L188.2,562.61 L200.95,571.21 L213.7,562.61 L226.44,571.21 L226.44,571.21 L239.2,579.81 L251.96,571.21 L251.96,571.21 L264.71,562.61 L264.71,547.59 L251.95,538.99 L251.95,538.99 L239.21,530.39 L239.21,530.39 L226.46,521.79 L226.46,521.79 L213.7,513.19 L200.94,521.79 L200.94,521.79 L188.19,530.39Z" fill="#5f645e" stroke="#5f645e" stroke-width="5.8" stroke-linejoin="round"/><g stroke="#465340" stroke-width="1.35" stroke-linejoin="round"><polygon fill="#c6d0b4" points="200.95,521.8 213.7,530.4 213.7,545.4 200.95,536.8"/><polygon fill="#a7b391" points="213.7,530.4 226.45,521.8 226.45,536.8 213.7,545.4"/><polygon fill="#d9e2cb" points="213.7,513.2 226.45,521.8 213.7,530.4 200.95,521.8"/><polygon fill="#c6d0b4" points="213.7,530.4 226.45,539 226.45,554 213.7,545.4"/><polygon fill="#a7b391" points="226.45,539 239.2,530.4 239.2,545.4 226.45,554"/><polygon fill="#d9e2cb" points="226.45,521.8 239.2,530.4 226.45,539 213.7,530.4"/><polygon fill="#c6d0b4" points="188.2,530.4 200.95,539 200.95,554 188.2,545.4"/><polygon fill="#a7b391" points="200.95,539 213.7,530.4 213.7,545.4 200.95,554"/><polygon fill="#d9e2cb" points="200.95,521.8 213.7,530.4 200.95,539 188.2,530.4"/><polygon fill="#c6d0b4" points="226.45,539 239.2,547.6 239.2,562.6 226.45,554"/><polygon fill="#a7b391" points="239.2,547.6 251.95,539 251.95,554 239.2,562.6"/><polygon fill="#d9e2cb" points="239.2,530.4 251.95,539 239.2,547.6 226.45,539"/><polygon fill="#c6d0b4" points="200.95,539 213.7,547.6 213.7,562.6 200.95,554"/><polygon fill="#a7b391" points="213.7,547.6 226.45,539 226.45,554 213.7,562.6"/><polygon fill="#d9e2cb" points="213.7,530.4 226.45,539 213.7,547.6 200.95,539"/><polygon fill="#c6d0b4" points="175.45,539 188.2,547.6 188.2,562.6 175.45,554"/><polygon fill="#a7b391" points="188.2,547.6 200.95,539 200.95,554 188.2,562.6"/><polygon fill="#d9e2cb" points="188.2,530.4 200.95,539 188.2,547.6 175.45,539"/><polygon fill="#c6d0b4" points="239.2,547.6 251.95,556.2 251.95,571.2 239.2,562.6"/><polygon fill="#a7b391" points="251.95,556.2 264.7,547.6 264.7,562.6 251.95,571.2"/><polygon fill="#d9e2cb" points="251.95,539 264.7,547.6 251.95,556.2 239.2,547.6"/><polygon fill="#c6d0b4" points="213.7,547.6 226.45,556.2 226.45,571.2 213.7,562.6"/><polygon fill="#a7b391" points="226.45,556.2 239.2,547.6 239.2,562.6 226.45,571.2"/><polygon fill="#d9e2cb" points="226.45,539 239.2,547.6 226.45,556.2 213.7,547.6"/><polygon fill="#c6d0b4" points="188.2,547.6 200.95,556.2 200.95,571.2 188.2,562.6"/><polygon fill="#a7b391" points="200.95,556.2 213.7,547.6 213.7,562.6 200.95,571.2"/><polygon fill="#d9e2cb" points="200.95,539 213.7,547.6 200.95,556.2 188.2,547.6"/><polygon fill="#c6d0b4" points="226.45,556.2 239.2,564.8 239.2,579.8 226.45,571.2"/><polygon fill="#a7b391" points="239.2,564.8 251.95,556.2 251.95,571.2 239.2,579.8"/><polygon fill="#d9e2cb" points="239.2,547.6 251.95,556.2 239.2,564.8 226.45,556.2"/></g><path d="M361.44,533.49 L361.44,533.49 L348.69,542.09 L348.69,557.11 L361.45,565.71 L374.2,557.11 L386.95,565.71 L399.71,557.11 L399.71,542.09 L386.96,533.49 L386.96,533.49 L374.2,524.89 L361.44,533.49Z" fill="none" stroke="#ffffff" stroke-opacity="0.75" stroke-width="8.4" stroke-linejoin="round"/><path d="M361.44,533.49 L361.44,533.49 L348.69,542.09 L348.69,557.11 L361.45,565.71 L374.2,557.11 L386.95,565.71 L399.71,557.11 L399.71,542.09 L386.96,533.49 L386.96,533.49 L374.2,524.89 L361.44,533.49Z" fill="#5f645e" stroke="#5f645e" stroke-width="5.8" stroke-linejoin="round"/><g stroke="#465340" stroke-width="1.35" stroke-linejoin="round"><polygon fill="#c6d0b4" points="361.45,533.5 374.2,542.1 374.2,557.1 361.45,548.5"/><polygon fill="#a7b391" points="374.2,542.1 386.95,533.5 386.95,548.5 374.2,557.1"/><polygon fill="#d9e2cb" points="374.2,524.9 386.95,533.5 374.2,542.1 361.45,533.5"/><polygon fill="#c6d0b4" points="374.2,542.1 386.95,550.7 386.95,565.7 374.2,557.1"/><polygon fill="#a7b391" points="386.95,550.7 399.7,542.1 399.7,557.1 386.95,565.7"/><polygon fill="#d9e2cb" points="386.95,533.5 399.7,542.1 386.95,550.7 374.2,542.1"/><polygon fill="#c6d0b4" points="348.7,542.1 361.45,550.7 361.45,565.7 348.7,557.1"/><polygon fill="#a7b391" points="361.45,550.7 374.2,542.1 374.2,557.1 361.45,565.7"/><polygon fill="#d9e2cb" points="361.45,533.5 374.2,542.1 361.45,550.7 348.7,542.1"/></g><path d="M674.05,534.39 L661.29,542.99 L661.29,558.01 L674.05,566.61 L686.8,558.01 L699.55,566.61 L712.31,558.01 L712.31,542.99 L699.55,534.39 L686.8,525.79 L674.05,534.39Z" fill="none" stroke="#ffffff" stroke-opacity="0.75" stroke-width="8.4" stroke-linejoin="round"/><path d="M674.05,534.39 L661.29,542.99 L661.29,558.01 L674.05,566.61 L686.8,558.01 L699.55,566.61 L712.31,558.01 L712.31,542.99 L699.55,534.39 L686.8,525.79 L674.05,534.39Z" fill="#5f645e" stroke="#5f645e" stroke-width="5.8" stroke-linejoin="round"/><g stroke="#465340" stroke-width="1.35" stroke-linejoin="round"><polygon fill="#c6d0b4" points="674.05,534.4 686.8,543 686.8,558 674.05,549.4"/><polygon fill="#a7b391" points="686.8,543 699.55,534.4 699.55,549.4 686.8,558"/><polygon fill="#d9e2cb" points="686.8,525.8 699.55,534.4 686.8,543 674.05,534.4"/><polygon fill="#c6d0b4" points="686.8,543 699.55,551.6 699.55,566.6 686.8,558"/><polygon fill="#a7b391" points="699.55,551.6 712.3,543 712.3,558 699.55,566.6"/><polygon fill="#d9e2cb" points="699.55,534.4 712.3,543 699.55,551.6 686.8,543"/><polygon fill="#c6d0b4" points="661.3,543 674.05,551.6 674.05,566.6 661.3,558"/><polygon fill="#a7b391" points="674.05,551.6 686.8,543 686.8,558 674.05,566.6"/><polygon fill="#d9e2cb" points="674.05,534.4 686.8,543 674.05,551.6 661.3,543"/></g><path d="M865,533.49 L852.24,542.09 L852.24,557.11 L865,565.71 L877.76,557.11 L877.76,542.09 L865,533.49Z" fill="none" stroke="#ffffff" stroke-opacity="0.75" stroke-width="8.4" stroke-linejoin="round"/><path d="M865,533.49 L852.24,542.09 L852.24,557.11 L865,565.71 L877.76,557.11 L877.76,542.09 L865,533.49Z" fill="#5f645e" stroke="#5f645e" stroke-width="5.8" stroke-linejoin="round"/><g stroke="#465340" stroke-width="1.35" stroke-linejoin="round"><polygon fill="#c6d0b4" points="852.25,542.1 865,550.7 865,565.7 852.25,557.1"/><polygon fill="#a7b391" points="865,550.7 877.75,542.1 877.75,557.1 865,565.7"/><polygon fill="#d9e2cb" points="865,533.5 877.75,542.1 865,550.7 852.25,542.1"/></g><path d="M188.19,598.19 L188.19,598.19 L175.44,606.79 L175.44,621.81 L188.2,630.41 L188.2,630.41 L200.95,639.01 L213.7,630.41 L226.44,639.01 L226.44,639.01 L239.2,647.61 L251.96,639.01 L251.96,639.01 L264.71,630.41 L264.71,615.39 L251.95,606.79 L251.95,606.79 L239.21,598.19 L239.21,598.19 L226.46,589.59 L226.46,589.59 L213.7,580.99 L200.94,589.59 L200.94,589.59 L188.19,598.19Z" fill="none" stroke="#ffffff" stroke-opacity="0.75" stroke-width="8.4" stroke-linejoin="round"/><path d="M188.19,598.19 L188.19,598.19 L175.44,606.79 L175.44,621.81 L188.2,630.41 L188.2,630.41 L200.95,639.01 L213.7,630.41 L226.44,639.01 L226.44,639.01 L239.2,647.61 L251.96,639.01 L251.96,639.01 L264.71,630.41 L264.71,615.39 L251.95,606.79 L251.95,606.79 L239.21,598.19 L239.21,598.19 L226.46,589.59 L226.46,589.59 L213.7,580.99 L200.94,589.59 L200.94,589.59 L188.19,598.19Z" fill="#5f645e" stroke="#5f645e" stroke-width="5.8" stroke-linejoin="round"/><g stroke="#465340" stroke-width="1.35" stroke-linejoin="round"><polygon fill="#c6d0b4" points="200.95,589.6 213.7,598.2 213.7,613.2 200.95,604.6"/><polygon fill="#a7b391" points="213.7,598.2 226.45,589.6 226.45,604.6 213.7,613.2"/><polygon fill="#d9e2cb" points="213.7,581 226.45,589.6 213.7,598.2 200.95,589.6"/><polygon fill="#c6d0b4" points="213.7,598.2 226.45,606.8 226.45,621.8 213.7,613.2"/><polygon fill="#a7b391" points="226.45,606.8 239.2,598.2 239.2,613.2 226.45,621.8"/><polygon fill="#d9e2cb" points="226.45,589.6 239.2,598.2 226.45,606.8 213.7,598.2"/><polygon fill="#c6d0b4" points="188.2,598.2 200.95,606.8 200.95,621.8 188.2,613.2"/><polygon fill="#a7b391" points="200.95,606.8 213.7,598.2 213.7,613.2 200.95,621.8"/><polygon fill="#d9e2cb" points="200.95,589.6 213.7,598.2 200.95,606.8 188.2,598.2"/><polygon fill="#c6d0b4" points="226.45,606.8 239.2,615.4 239.2,630.4 226.45,621.8"/><polygon fill="#a7b391" points="239.2,615.4 251.95,606.8 251.95,621.8 239.2,630.4"/><polygon fill="#d9e2cb" points="239.2,598.2 251.95,606.8 239.2,615.4 226.45,606.8"/><polygon fill="#c6d0b4" points="200.95,606.8 213.7,615.4 213.7,630.4 200.95,621.8"/><polygon fill="#a7b391" points="213.7,615.4 226.45,606.8 226.45,621.8 213.7,630.4"/><polygon fill="#d9e2cb" points="213.7,598.2 226.45,606.8 213.7,615.4 200.95,606.8"/><polygon fill="#c6d0b4" points="175.45,606.8 188.2,615.4 188.2,630.4 175.45,621.8"/><polygon fill="#a7b391" points="188.2,615.4 200.95,606.8 200.95,621.8 188.2,630.4"/><polygon fill="#d9e2cb" points="188.2,598.2 200.95,606.8 188.2,615.4 175.45,606.8"/><polygon fill="#c6d0b4" points="239.2,615.4 251.95,624 251.95,639 239.2,630.4"/><polygon fill="#a7b391" points="251.95,624 264.7,615.4 264.7,630.4 251.95,639"/><polygon fill="#d9e2cb" points="251.95,606.8 264.7,615.4 251.95,624 239.2,615.4"/><polygon fill="#c6d0b4" points="213.7,615.4 226.45,624 226.45,639 213.7,630.4"/><polygon fill="#a7b391" points="226.45,624 239.2,615.4 239.2,630.4 226.45,639"/><polygon fill="#d9e2cb" points="226.45,606.8 239.2,615.4 226.45,624 213.7,615.4"/><polygon fill="#c6d0b4" points="188.2,615.4 200.95,624 200.95,639 188.2,630.4"/><polygon fill="#a7b391" points="200.95,624 213.7,615.4 213.7,630.4 200.95,639"/><polygon fill="#d9e2cb" points="200.95,606.8 213.7,615.4 200.95,624 188.2,615.4"/><polygon fill="#c6d0b4" points="226.45,624 239.2,632.6 239.2,647.6 226.45,639"/><polygon fill="#a7b391" points="239.2,632.6 251.95,624 251.95,639 239.2,647.6"/><polygon fill="#d9e2cb" points="239.2,615.4 251.95,624 239.2,632.6 226.45,624"/></g><path d="M361.44,594.69 L348.69,603.29 L348.69,618.31 L361.44,626.91 L361.44,626.91 L374.2,635.51 L386.95,644.11 L399.7,635.51 L412.46,626.91 L412.46,611.89 L399.71,603.29 L399.71,603.29 L386.96,594.69 L386.96,594.69 L374.2,586.09 L361.44,594.69 L361.44,594.69Z" fill="none" stroke="#ffffff" stroke-opacity="0.75" stroke-width="8.4" stroke-linejoin="round"/><path d="M361.44,594.69 L348.69,603.29 L348.69,618.31 L361.44,626.91 L361.44,626.91 L374.2,635.51 L386.95,644.11 L399.7,635.51 L412.46,626.91 L412.46,611.89 L399.71,603.29 L399.71,603.29 L386.96,594.69 L386.96,594.69 L374.2,586.09 L361.44,594.69 L361.44,594.69Z" fill="#5f645e" stroke="#5f645e" stroke-width="5.8" stroke-linejoin="round"/><g stroke="#465340" stroke-width="1.35" stroke-linejoin="round"><polygon fill="#c6d0b4" points="361.45,594.7 374.2,603.3 374.2,618.3 361.45,609.7"/><polygon fill="#a7b391" points="374.2,603.3 386.95,594.7 386.95,609.7 374.2,618.3"/><polygon fill="#d9e2cb" points="374.2,586.1 386.95,594.7 374.2,603.3 361.45,594.7"/><polygon fill="#c6d0b4" points="374.2,603.3 386.95,611.9 386.95,626.9 374.2,618.3"/><polygon fill="#a7b391" points="386.95,611.9 399.7,603.3 399.7,618.3 386.95,626.9"/><polygon fill="#d9e2cb" points="386.95,594.7 399.7,603.3 386.95,611.9 374.2,603.3"/><polygon fill="#c6d0b4" points="348.7,603.3 361.45,611.9 361.45,626.9 348.7,618.3"/><polygon fill="#a7b391" points="361.45,611.9 374.2,603.3 374.2,618.3 361.45,626.9"/><polygon fill="#d9e2cb" points="361.45,594.7 374.2,603.3 361.45,611.9 348.7,603.3"/><polygon fill="#c6d0b4" points="386.95,611.9 399.7,620.5 399.7,635.5 386.95,626.9"/><polygon fill="#a7b391" points="399.7,620.5 412.45,611.9 412.45,626.9 399.7,635.5"/><polygon fill="#d9e2cb" points="399.7,603.3 412.45,611.9 399.7,620.5 386.95,611.9"/><polygon fill="#c6d0b4" points="361.45,611.9 374.2,620.5 374.2,635.5 361.45,626.9"/><polygon fill="#a7b391" points="374.2,620.5 386.95,611.9 386.95,626.9 374.2,635.5"/><polygon fill="#d9e2cb" points="374.2,603.3 386.95,611.9 374.2,620.5 361.45,611.9"/><polygon fill="#c6d0b4" points="374.2,620.5 386.95,629.1 386.95,644.1 374.2,635.5"/><polygon fill="#a7b391" points="386.95,629.1 399.7,620.5 399.7,635.5 386.95,644.1"/><polygon fill="#d9e2cb" points="386.95,611.9 399.7,620.5 386.95,629.1 374.2,620.5"/></g><path d="M534.24,603.99 L534.24,619.01 L547,627.61 L559.75,636.21 L572.51,627.61 L572.51,612.59 L559.75,603.99 L547,595.39 L534.24,603.99Z" fill="none" stroke="#ffffff" stroke-opacity="0.75" stroke-width="8.4" stroke-linejoin="round"/><path d="M534.24,603.99 L534.24,619.01 L547,627.61 L559.75,636.21 L572.51,627.61 L572.51,612.59 L559.75,603.99 L547,595.39 L534.24,603.99Z" fill="#5f645e" stroke="#5f645e" stroke-width="5.8" stroke-linejoin="round"/><g stroke="#465340" stroke-width="1.35" stroke-linejoin="round"><polygon fill="#c6d0b4" points="534.25,604 547,612.6 547,627.6 534.25,619"/><polygon fill="#a7b391" points="547,612.6 559.75,604 559.75,619 547,627.6"/><polygon fill="#d9e2cb" points="547,595.4 559.75,604 547,612.6 534.25,604"/><polygon fill="#c6d0b4" points="547,612.6 559.75,621.2 559.75,636.2 547,627.6"/><polygon fill="#a7b391" points="559.75,621.2 572.5,612.6 572.5,627.6 559.75,636.2"/><polygon fill="#d9e2cb" points="559.75,604 572.5,612.6 559.75,621.2 547,612.6"/></g><path d="M648.54,608.69 L648.54,623.71 L661.3,632.31 L661.3,632.31 L674.05,640.91 L686.8,632.31 L686.8,632.31 L686.8,632.31 L699.55,640.91 L712.3,649.51 L725.05,640.91 L737.81,632.31 L737.81,617.29 L725.05,608.69 L725.05,608.69 L712.3,600.09 L699.55,591.49 L686.8,582.89 L674.05,591.49 L661.3,600.09 L648.54,608.69Z" fill="none" stroke="#ffffff" stroke-opacity="0.75" stroke-width="8.4" stroke-linejoin="round"/><path d="M648.54,608.69 L648.54,623.71 L661.3,632.31 L661.3,632.31 L674.05,640.91 L686.8,632.31 L686.8,632.31 L686.8,632.31 L699.55,640.91 L712.3,649.51 L725.05,640.91 L737.81,632.31 L737.81,617.29 L725.05,608.69 L725.05,608.69 L712.3,600.09 L699.55,591.49 L686.8,582.89 L674.05,591.49 L661.3,600.09 L648.54,608.69Z" fill="#5f645e" stroke="#5f645e" stroke-width="5.8" stroke-linejoin="round"/><g stroke="#465340" stroke-width="1.35" stroke-linejoin="round"><polygon fill="#c6d0b4" points="674.05,591.5 686.8,600.1 686.8,615.1 674.05,606.5"/><polygon fill="#a7b391" points="686.8,600.1 699.55,591.5 699.55,606.5 686.8,615.1"/><polygon fill="#d9e2cb" points="686.8,582.9 699.55,591.5 686.8,600.1 674.05,591.5"/><polygon fill="#c6d0b4" points="686.8,600.1 699.55,608.7 699.55,623.7 686.8,615.1"/><polygon fill="#a7b391" points="699.55,608.7 712.3,600.1 712.3,615.1 699.55,623.7"/><polygon fill="#d9e2cb" points="699.55,591.5 712.3,600.1 699.55,608.7 686.8,600.1"/><polygon fill="#c6d0b4" points="661.3,600.1 674.05,608.7 674.05,623.7 661.3,615.1"/><polygon fill="#a7b391" points="674.05,608.7 686.8,600.1 686.8,615.1 674.05,623.7"/><polygon fill="#d9e2cb" points="674.05,591.5 686.8,600.1 674.05,608.7 661.3,600.1"/><polygon fill="#c6d0b4" points="699.55,608.7 712.3,617.3 712.3,632.3 699.55,623.7"/><polygon fill="#a7b391" points="712.3,617.3 725.05,608.7 725.05,623.7 712.3,632.3"/><polygon fill="#d9e2cb" points="712.3,600.1 725.05,608.7 712.3,617.3 699.55,608.7"/><polygon fill="#c6d0b4" points="674.05,608.7 686.8,617.3 686.8,632.3 674.05,623.7"/><polygon fill="#a7b391" points="686.8,617.3 699.55,608.7 699.55,623.7 686.8,632.3"/><polygon fill="#d9e2cb" points="686.8,600.1 699.55,608.7 686.8,617.3 674.05,608.7"/><polygon fill="#c6d0b4" points="648.55,608.7 661.3,617.3 661.3,632.3 648.55,623.7"/><polygon fill="#a7b391" points="661.3,617.3 674.05,608.7 674.05,623.7 661.3,632.3"/><polygon fill="#d9e2cb" points="661.3,600.1 674.05,608.7 661.3,617.3 648.55,608.7"/><polygon fill="#c6d0b4" points="712.3,617.3 725.05,625.9 725.05,640.9 712.3,632.3"/><polygon fill="#a7b391" points="725.05,625.9 737.8,617.3 737.8,632.3 725.05,640.9"/><polygon fill="#d9e2cb" points="725.05,608.7 737.8,617.3 725.05,625.9 712.3,617.3"/><polygon fill="#c6d0b4" points="686.8,617.3 699.55,625.9 699.55,640.9 686.8,632.3"/><polygon fill="#a7b391" points="699.55,625.9 712.3,617.3 712.3,632.3 699.55,640.9"/><polygon fill="#d9e2cb" points="699.55,608.7 712.3,617.3 699.55,625.9 686.8,617.3"/><polygon fill="#c6d0b4" points="661.3,617.3 674.05,625.9 674.05,640.9 661.3,632.3"/><polygon fill="#a7b391" points="674.05,625.9 686.8,617.3 686.8,632.3 674.05,640.9"/><polygon fill="#d9e2cb" points="674.05,608.7 686.8,617.3 674.05,625.9 661.3,617.3"/><polygon fill="#c6d0b4" points="699.55,625.9 712.3,634.5 712.3,649.5 699.55,640.9"/><polygon fill="#a7b391" points="712.3,634.5 725.05,625.9 725.05,640.9 712.3,649.5"/><polygon fill="#d9e2cb" points="712.3,617.3 725.05,625.9 712.3,634.5 699.55,625.9"/></g><path d="M865,599.49 L852.24,608.09 L852.24,623.11 L865,631.71 L877.76,623.11 L877.76,608.09 L865,599.49Z" fill="none" stroke="#ffffff" stroke-opacity="0.75" stroke-width="8.4" stroke-linejoin="round"/><path d="M865,599.49 L852.24,608.09 L852.24,623.11 L865,631.71 L877.76,623.11 L877.76,608.09 L865,599.49Z" fill="#5f645e" stroke="#5f645e" stroke-width="5.8" stroke-linejoin="round"/><g stroke="#465340" stroke-width="1.35" stroke-linejoin="round"><polygon fill="#c6d0b4" points="852.25,608.1 865,616.7 865,631.7 852.25,623.1"/><polygon fill="#a7b391" points="865,616.7 877.75,608.1 877.75,623.1 865,631.7"/><polygon fill="#d9e2cb" points="865,599.5 877.75,608.1 865,616.7 852.25,608.1"/></g><path d="M188.19,663.19 L188.19,663.19 L175.45,671.79 L175.45,671.79 L162.69,680.39 L162.69,695.41 L175.44,704.01 L175.44,704.01 L188.2,712.61 L200.95,704.01 L213.69,712.61 L213.69,712.61 L226.45,721.21 L239.21,712.61 L239.21,712.61 L251.96,704.01 L251.96,704.01 L264.71,695.41 L264.71,680.39 L251.95,671.79 L251.95,671.79 L239.21,663.19 L239.21,663.19 L226.46,654.59 L226.46,654.59 L213.7,645.99 L200.94,654.59 L200.94,654.59 L188.19,663.19Z" fill="none" stroke="#ffffff" stroke-opacity="0.75" stroke-width="8.4" stroke-linejoin="round"/><path d="M188.19,663.19 L188.19,663.19 L175.45,671.79 L175.45,671.79 L162.69,680.39 L162.69,695.41 L175.44,704.01 L175.44,704.01 L188.2,712.61 L200.95,704.01 L213.69,712.61 L213.69,712.61 L226.45,721.21 L239.21,712.61 L239.21,712.61 L251.96,704.01 L251.96,704.01 L264.71,695.41 L264.71,680.39 L251.95,671.79 L251.95,671.79 L239.21,663.19 L239.21,663.19 L226.46,654.59 L226.46,654.59 L213.7,645.99 L200.94,654.59 L200.94,654.59 L188.19,663.19Z" fill="#5f645e" stroke="#5f645e" stroke-width="5.8" stroke-linejoin="round"/><g stroke="#465340" stroke-width="1.35" stroke-linejoin="round"><polygon fill="#c6d0b4" points="200.95,654.6 213.7,663.2 213.7,678.2 200.95,669.6"/><polygon fill="#a7b391" points="213.7,663.2 226.45,654.6 226.45,669.6 213.7,678.2"/><polygon fill="#d9e2cb" points="213.7,646 226.45,654.6 213.7,663.2 200.95,654.6"/><polygon fill="#c6d0b4" points="213.7,663.2 226.45,671.8 226.45,686.8 213.7,678.2"/><polygon fill="#a7b391" points="226.45,671.8 239.2,663.2 239.2,678.2 226.45,686.8"/><polygon fill="#d9e2cb" points="226.45,654.6 239.2,663.2 226.45,671.8 213.7,663.2"/><polygon fill="#c6d0b4" points="188.2,663.2 200.95,671.8 200.95,686.8 188.2,678.2"/><polygon fill="#a7b391" points="200.95,671.8 213.7,663.2 213.7,678.2 200.95,686.8"/><polygon fill="#d9e2cb" points="200.95,654.6 213.7,663.2 200.95,671.8 188.2,663.2"/><polygon fill="#c6d0b4" points="226.45,671.8 239.2,680.4 239.2,695.4 226.45,686.8"/><polygon fill="#a7b391" points="239.2,680.4 251.95,671.8 251.95,686.8 239.2,695.4"/><polygon fill="#d9e2cb" points="239.2,663.2 251.95,671.8 239.2,680.4 226.45,671.8"/><polygon fill="#c6d0b4" points="200.95,671.8 213.7,680.4 213.7,695.4 200.95,686.8"/><polygon fill="#a7b391" points="213.7,680.4 226.45,671.8 226.45,686.8 213.7,695.4"/><polygon fill="#d9e2cb" points="213.7,663.2 226.45,671.8 213.7,680.4 200.95,671.8"/><polygon fill="#c6d0b4" points="175.45,671.8 188.2,680.4 188.2,695.4 175.45,686.8"/><polygon fill="#a7b391" points="188.2,680.4 200.95,671.8 200.95,686.8 188.2,695.4"/><polygon fill="#d9e2cb" points="188.2,663.2 200.95,671.8 188.2,680.4 175.45,671.8"/><polygon fill="#c6d0b4" points="239.2,680.4 251.95,689 251.95,704 239.2,695.4"/><polygon fill="#a7b391" points="251.95,689 264.7,680.4 264.7,695.4 251.95,704"/><polygon fill="#d9e2cb" points="251.95,671.8 264.7,680.4 251.95,689 239.2,680.4"/><polygon fill="#c6d0b4" points="213.7,680.4 226.45,689 226.45,704 213.7,695.4"/><polygon fill="#a7b391" points="226.45,689 239.2,680.4 239.2,695.4 226.45,704"/><polygon fill="#d9e2cb" points="226.45,671.8 239.2,680.4 226.45,689 213.7,680.4"/><polygon fill="#c6d0b4" points="188.2,680.4 200.95,689 200.95,704 188.2,695.4"/><polygon fill="#a7b391" points="200.95,689 213.7,680.4 213.7,695.4 200.95,704"/><polygon fill="#d9e2cb" points="200.95,671.8 213.7,680.4 200.95,689 188.2,680.4"/><polygon fill="#c6d0b4" points="162.7,680.4 175.45,689 175.45,704 162.7,695.4"/><polygon fill="#a7b391" points="175.45,689 188.2,680.4 188.2,695.4 175.45,704"/><polygon fill="#d9e2cb" points="175.45,671.8 188.2,680.4 175.45,689 162.7,680.4"/><polygon fill="#c6d0b4" points="226.45,689 239.2,697.6 239.2,712.6 226.45,704"/><polygon fill="#a7b391" points="239.2,697.6 251.95,689 251.95,704 239.2,712.6"/><polygon fill="#d9e2cb" points="239.2,680.4 251.95,689 239.2,697.6 226.45,689"/><polygon fill="#c6d0b4" points="200.95,689 213.7,697.6 213.7,712.6 200.95,704"/><polygon fill="#a7b391" points="213.7,697.6 226.45,689 226.45,704 213.7,712.6"/><polygon fill="#d9e2cb" points="213.7,680.4 226.45,689 213.7,697.6 200.95,689"/><polygon fill="#c6d0b4" points="175.45,689 188.2,697.6 188.2,712.6 175.45,704"/><polygon fill="#a7b391" points="188.2,697.6 200.95,689 200.95,704 188.2,712.6"/><polygon fill="#d9e2cb" points="188.2,680.4 200.95,689 188.2,697.6 175.45,689"/><polygon fill="#c6d0b4" points="213.7,697.6 226.45,706.2 226.45,721.2 213.7,712.6"/><polygon fill="#a7b391" points="226.45,706.2 239.2,697.6 239.2,712.6 226.45,721.2"/><polygon fill="#d9e2cb" points="226.45,689 239.2,697.6 226.45,706.2 213.7,697.6"/></g><path d="M361.44,661.89 L348.69,670.49 L348.69,670.49 L335.94,679.09 L335.94,694.11 L348.7,702.71 L361.45,694.11 L374.2,702.71 L386.95,711.31 L399.7,702.71 L412.46,694.11 L412.46,679.09 L399.71,670.49 L399.71,670.49 L386.96,661.89 L386.96,661.89 L374.2,653.29 L361.44,661.89 L361.44,661.89Z" fill="none" stroke="#ffffff" stroke-opacity="0.75" stroke-width="8.4" stroke-linejoin="round"/><path d="M361.44,661.89 L348.69,670.49 L348.69,670.49 L335.94,679.09 L335.94,694.11 L348.7,702.71 L361.45,694.11 L374.2,702.71 L386.95,711.31 L399.7,702.71 L412.46,694.11 L412.46,679.09 L399.71,670.49 L399.71,670.49 L386.96,661.89 L386.96,661.89 L374.2,653.29 L361.44,661.89 L361.44,661.89Z" fill="#5f645e" stroke="#5f645e" stroke-width="5.8" stroke-linejoin="round"/><g stroke="#465340" stroke-width="1.35" stroke-linejoin="round"><polygon fill="#c6d0b4" points="361.45,661.9 374.2,670.5 374.2,685.5 361.45,676.9"/><polygon fill="#a7b391" points="374.2,670.5 386.95,661.9 386.95,676.9 374.2,685.5"/><polygon fill="#d9e2cb" points="374.2,653.3 386.95,661.9 374.2,670.5 361.45,661.9"/><polygon fill="#c6d0b4" points="374.2,670.5 386.95,679.1 386.95,694.1 374.2,685.5"/><polygon fill="#a7b391" points="386.95,679.1 399.7,670.5 399.7,685.5 386.95,694.1"/><polygon fill="#d9e2cb" points="386.95,661.9 399.7,670.5 386.95,679.1 374.2,670.5"/><polygon fill="#c6d0b4" points="348.7,670.5 361.45,679.1 361.45,694.1 348.7,685.5"/><polygon fill="#a7b391" points="361.45,679.1 374.2,670.5 374.2,685.5 361.45,694.1"/><polygon fill="#d9e2cb" points="361.45,661.9 374.2,670.5 361.45,679.1 348.7,670.5"/><polygon fill="#c6d0b4" points="386.95,679.1 399.7,687.7 399.7,702.7 386.95,694.1"/><polygon fill="#a7b391" points="399.7,687.7 412.45,679.1 412.45,694.1 399.7,702.7"/><polygon fill="#d9e2cb" points="399.7,670.5 412.45,679.1 399.7,687.7 386.95,679.1"/><polygon fill="#c6d0b4" points="361.45,679.1 374.2,687.7 374.2,702.7 361.45,694.1"/><polygon fill="#a7b391" points="374.2,687.7 386.95,679.1 386.95,694.1 374.2,702.7"/><polygon fill="#d9e2cb" points="374.2,670.5 386.95,679.1 374.2,687.7 361.45,679.1"/><polygon fill="#c6d0b4" points="335.95,679.1 348.7,687.7 348.7,702.7 335.95,694.1"/><polygon fill="#a7b391" points="348.7,687.7 361.45,679.1 361.45,694.1 348.7,702.7"/><polygon fill="#d9e2cb" points="348.7,670.5 361.45,679.1 348.7,687.7 335.95,679.1"/><polygon fill="#c6d0b4" points="374.2,687.7 386.95,696.3 386.95,711.3 374.2,702.7"/><polygon fill="#a7b391" points="386.95,696.3 399.7,687.7 399.7,702.7 386.95,711.3"/><polygon fill="#d9e2cb" points="386.95,679.1 399.7,687.7 386.95,696.3 374.2,687.7"/></g><path d="M534.25,671.49 L521.49,680.09 L521.49,695.11 L534.25,703.71 L547,695.11 L559.75,703.71 L572.51,695.11 L572.51,680.09 L559.75,671.49 L547,662.89 L534.25,671.49Z" fill="none" stroke="#ffffff" stroke-opacity="0.75" stroke-width="8.4" stroke-linejoin="round"/><path d="M534.25,671.49 L521.49,680.09 L521.49,695.11 L534.25,703.71 L547,695.11 L559.75,703.71 L572.51,695.11 L572.51,680.09 L559.75,671.49 L547,662.89 L534.25,671.49Z" fill="#5f645e" stroke="#5f645e" stroke-width="5.8" stroke-linejoin="round"/><g stroke="#465340" stroke-width="1.35" stroke-linejoin="round"><polygon fill="#c6d0b4" points="534.25,671.5 547,680.1 547,695.1 534.25,686.5"/><polygon fill="#a7b391" points="547,680.1 559.75,671.5 559.75,686.5 547,695.1"/><polygon fill="#d9e2cb" points="547,662.9 559.75,671.5 547,680.1 534.25,671.5"/><polygon fill="#c6d0b4" points="547,680.1 559.75,688.7 559.75,703.7 547,695.1"/><polygon fill="#a7b391" points="559.75,688.7 572.5,680.1 572.5,695.1 559.75,703.7"/><polygon fill="#d9e2cb" points="559.75,671.5 572.5,680.1 559.75,688.7 547,680.1"/><polygon fill="#c6d0b4" points="521.5,680.1 534.25,688.7 534.25,703.7 521.5,695.1"/><polygon fill="#a7b391" points="534.25,688.7 547,680.1 547,695.1 534.25,703.7"/><polygon fill="#d9e2cb" points="534.25,671.5 547,680.1 534.25,688.7 521.5,680.1"/></g><path d="M648.54,676.99 L648.54,692.01 L661.3,700.61 L661.3,700.61 L674.05,709.21 L686.8,717.81 L699.55,709.21 L712.3,717.81 L725.05,709.21 L737.81,700.61 L737.81,685.59 L725.05,676.99 L725.05,676.99 L712.3,668.39 L699.55,659.79 L686.8,651.19 L674.05,659.79 L661.3,668.39 L648.54,676.99Z" fill="none" stroke="#ffffff" stroke-opacity="0.75" stroke-width="8.4" stroke-linejoin="round"/><path d="M648.54,676.99 L648.54,692.01 L661.3,700.61 L661.3,700.61 L674.05,709.21 L686.8,717.81 L699.55,709.21 L712.3,717.81 L725.05,709.21 L737.81,700.61 L737.81,685.59 L725.05,676.99 L725.05,676.99 L712.3,668.39 L699.55,659.79 L686.8,651.19 L674.05,659.79 L661.3,668.39 L648.54,676.99Z" fill="#5f645e" stroke="#5f645e" stroke-width="5.8" stroke-linejoin="round"/><g stroke="#465340" stroke-width="1.35" stroke-linejoin="round"><polygon fill="#c6d0b4" points="674.05,659.8 686.8,668.4 686.8,683.4 674.05,674.8"/><polygon fill="#a7b391" points="686.8,668.4 699.55,659.8 699.55,674.8 686.8,683.4"/><polygon fill="#d9e2cb" points="686.8,651.2 699.55,659.8 686.8,668.4 674.05,659.8"/><polygon fill="#c6d0b4" points="686.8,668.4 699.55,677 699.55,692 686.8,683.4"/><polygon fill="#a7b391" points="699.55,677 712.3,668.4 712.3,683.4 699.55,692"/><polygon fill="#d9e2cb" points="699.55,659.8 712.3,668.4 699.55,677 686.8,668.4"/><polygon fill="#c6d0b4" points="661.3,668.4 674.05,677 674.05,692 661.3,683.4"/><polygon fill="#a7b391" points="674.05,677 686.8,668.4 686.8,683.4 674.05,692"/><polygon fill="#d9e2cb" points="674.05,659.8 686.8,668.4 674.05,677 661.3,668.4"/><polygon fill="#c6d0b4" points="699.55,677 712.3,685.6 712.3,700.6 699.55,692"/><polygon fill="#a7b391" points="712.3,685.6 725.05,677 725.05,692 712.3,700.6"/><polygon fill="#d9e2cb" points="712.3,668.4 725.05,677 712.3,685.6 699.55,677"/><polygon fill="#c6d0b4" points="674.05,677 686.8,685.6 686.8,700.6 674.05,692"/><polygon fill="#a7b391" points="686.8,685.6 699.55,677 699.55,692 686.8,700.6"/><polygon fill="#d9e2cb" points="686.8,668.4 699.55,677 686.8,685.6 674.05,677"/><polygon fill="#c6d0b4" points="648.55,677 661.3,685.6 661.3,700.6 648.55,692"/><polygon fill="#a7b391" points="661.3,685.6 674.05,677 674.05,692 661.3,700.6"/><polygon fill="#d9e2cb" points="661.3,668.4 674.05,677 661.3,685.6 648.55,677"/><polygon fill="#c6d0b4" points="712.3,685.6 725.05,694.2 725.05,709.2 712.3,700.6"/><polygon fill="#a7b391" points="725.05,694.2 737.8,685.6 737.8,700.6 725.05,709.2"/><polygon fill="#d9e2cb" points="725.05,677 737.8,685.6 725.05,694.2 712.3,685.6"/><polygon fill="#c6d0b4" points="686.8,685.6 699.55,694.2 699.55,709.2 686.8,700.6"/><polygon fill="#a7b391" points="699.55,694.2 712.3,685.6 712.3,700.6 699.55,709.2"/><polygon fill="#d9e2cb" points="699.55,677 712.3,685.6 699.55,694.2 686.8,685.6"/><polygon fill="#c6d0b4" points="661.3,685.6 674.05,694.2 674.05,709.2 661.3,700.6"/><polygon fill="#a7b391" points="674.05,694.2 686.8,685.6 686.8,700.6 674.05,709.2"/><polygon fill="#d9e2cb" points="674.05,677 686.8,685.6 674.05,694.2 661.3,685.6"/><polygon fill="#c6d0b4" points="699.55,694.2 712.3,702.8 712.3,717.8 699.55,709.2"/><polygon fill="#a7b391" points="712.3,702.8 725.05,694.2 725.05,709.2 712.3,717.8"/><polygon fill="#d9e2cb" points="712.3,685.6 725.05,694.2 712.3,702.8 699.55,694.2"/><polygon fill="#c6d0b4" points="674.05,694.2 686.8,702.8 686.8,717.8 674.05,709.2"/><polygon fill="#a7b391" points="686.8,702.8 699.55,694.2 699.55,709.2 686.8,717.8"/><polygon fill="#d9e2cb" points="686.8,685.6 699.55,694.2 686.8,702.8 674.05,694.2"/></g><path d="M865,665.89 L852.24,674.49 L852.24,689.51 L865,698.11 L877.76,689.51 L877.76,674.49 L865,665.89Z" fill="none" stroke="#ffffff" stroke-opacity="0.75" stroke-width="8.4" stroke-linejoin="round"/><path d="M865,665.89 L852.24,674.49 L852.24,689.51 L865,698.11 L877.76,689.51 L877.76,674.49 L865,665.89Z" fill="#5f645e" stroke="#5f645e" stroke-width="5.8" stroke-linejoin="round"/><g stroke="#465340" stroke-width="1.35" stroke-linejoin="round"><polygon fill="#c6d0b4" points="852.25,674.5 865,683.1 865,698.1 852.25,689.5"/><polygon fill="#a7b391" points="865,683.1 877.75,674.5 877.75,689.5 865,698.1"/><polygon fill="#d9e2cb" points="865,665.9 877.75,674.5 865,683.1 852.25,674.5"/></g><path d="M992.04,259.49 L992.04,259.49 L979.29,268.09 L979.29,283.11 L992.05,291.71 L1004.8,283.11 L1017.55,291.71 L1030.31,283.11 L1030.31,268.09 L1017.56,259.49 L1017.56,259.49 L1004.8,250.89 L992.04,259.49Z" fill="#262926" stroke="#262926" stroke-width="4.6" stroke-linejoin="round"/><g stroke="#465340" stroke-width="1.35" stroke-linejoin="round"><polygon fill="#c6d0b4" points="992.05,259.5 1004.8,268.1 1004.8,283.1 992.05,274.5"/><polygon fill="#a7b391" points="1004.8,268.1 1017.55,259.5 1017.55,274.5 1004.8,283.1"/><polygon fill="#d9e2cb" points="1004.8,250.9 1017.55,259.5 1004.8,268.1 992.05,259.5"/><polygon fill="#c6d0b4" points="1004.8,268.1 1017.55,276.7 1017.55,291.7 1004.8,283.1"/><polygon fill="#a7b391" points="1017.55,276.7 1030.3,268.1 1030.3,283.1 1017.55,291.7"/><polygon fill="#d9e2cb" points="1017.55,259.5 1030.3,268.1 1017.55,276.7 1004.8,268.1"/><polygon fill="#c6d0b4" points="979.3,268.1 992.05,276.7 992.05,291.7 979.3,283.1"/><polygon fill="#a7b391" points="992.05,276.7 1004.8,268.1 1004.8,283.1 992.05,291.7"/><polygon fill="#d9e2cb" points="992.05,259.5 1004.8,268.1 992.05,276.7 979.3,268.1"/></g><path d="M992.04,324.39 L979.29,332.99 L979.29,348.01 L992.04,356.61 L992.04,356.61 L1004.8,365.21 L1017.56,356.61 L1017.56,356.61 L1030.31,348.01 L1030.31,332.99 L1017.56,324.39 L1017.56,324.39 L1004.8,315.79 L992.04,324.39 L992.04,324.39Z" fill="#262926" stroke="#262926" stroke-width="4.6" stroke-linejoin="round"/><g stroke="#465340" stroke-width="1.35" stroke-linejoin="round"><polygon fill="#c6d0b4" points="992.05,324.4 1004.8,333 1004.8,348 992.05,339.4"/><polygon fill="#a7b391" points="1004.8,333 1017.55,324.4 1017.55,339.4 1004.8,348"/><polygon fill="#d9e2cb" points="1004.8,315.8 1017.55,324.4 1004.8,333 992.05,324.4"/><polygon fill="#c6d0b4" points="1004.8,333 1017.55,341.6 1017.55,356.6 1004.8,348"/><polygon fill="#a7b391" points="1017.55,341.6 1030.3,333 1030.3,348 1017.55,356.6"/><polygon fill="#d9e2cb" points="1017.55,324.4 1030.3,333 1017.55,341.6 1004.8,333"/><polygon fill="#c6d0b4" points="979.3,333 992.05,341.6 992.05,356.6 979.3,348"/><polygon fill="#a7b391" points="992.05,341.6 1004.8,333 1004.8,348 992.05,356.6"/><polygon fill="#d9e2cb" points="992.05,324.4 1004.8,333 992.05,341.6 979.3,333"/><polygon fill="#c6d0b4" points="992.05,341.6 1004.8,350.2 1004.8,365.2 992.05,356.6"/><polygon fill="#a7b391" points="1004.8,350.2 1017.55,341.6 1017.55,356.6 1004.8,365.2"/><polygon fill="#d9e2cb" points="1004.8,333 1017.55,341.6 1004.8,350.2 992.05,341.6"/></g><path d="M992.04,390.39 L979.29,398.99 L979.29,414.01 L992.04,422.61 L992.04,422.61 L1004.79,431.21 L1004.79,431.21 L1017.55,439.81 L1030.31,431.21 L1030.31,431.21 L1043.06,422.61 L1043.06,407.59 L1030.3,398.99 L1017.56,390.39 L1017.56,390.39 L1004.8,381.79 L992.04,390.39 L992.04,390.39Z" fill="#262926" stroke="#262926" stroke-width="4.6" stroke-linejoin="round"/><g stroke="#465340" stroke-width="1.35" stroke-linejoin="round"><polygon fill="#c6d0b4" points="992.05,390.4 1004.8,399 1004.8,414 992.05,405.4"/><polygon fill="#a7b391" points="1004.8,399 1017.55,390.4 1017.55,405.4 1004.8,414"/><polygon fill="#d9e2cb" points="1004.8,381.8 1017.55,390.4 1004.8,399 992.05,390.4"/><polygon fill="#c6d0b4" points="1004.8,399 1017.55,407.6 1017.55,422.6 1004.8,414"/><polygon fill="#a7b391" points="1017.55,407.6 1030.3,399 1030.3,414 1017.55,422.6"/><polygon fill="#d9e2cb" points="1017.55,390.4 1030.3,399 1017.55,407.6 1004.8,399"/><polygon fill="#c6d0b4" points="979.3,399 992.05,407.6 992.05,422.6 979.3,414"/><polygon fill="#a7b391" points="992.05,407.6 1004.8,399 1004.8,414 992.05,422.6"/><polygon fill="#d9e2cb" points="992.05,390.4 1004.8,399 992.05,407.6 979.3,399"/><polygon fill="#c6d0b4" points="1017.55,407.6 1030.3,416.2 1030.3,431.2 1017.55,422.6"/><polygon fill="#a7b391" points="1030.3,416.2 1043.05,407.6 1043.05,422.6 1030.3,431.2"/><polygon fill="#d9e2cb" points="1030.3,399 1043.05,407.6 1030.3,416.2 1017.55,407.6"/><polygon fill="#c6d0b4" points="992.05,407.6 1004.8,416.2 1004.8,431.2 992.05,422.6"/><polygon fill="#a7b391" points="1004.8,416.2 1017.55,407.6 1017.55,422.6 1004.8,431.2"/><polygon fill="#d9e2cb" points="1004.8,399 1017.55,407.6 1004.8,416.2 992.05,407.6"/><polygon fill="#c6d0b4" points="1004.8,416.2 1017.55,424.8 1017.55,439.8 1004.8,431.2"/><polygon fill="#a7b391" points="1017.55,424.8 1030.3,416.2 1030.3,431.2 1017.55,439.8"/><polygon fill="#d9e2cb" points="1017.55,407.6 1030.3,416.2 1017.55,424.8 1004.8,416.2"/></g><path d="M979.5,466.79 L966.74,475.39 L966.74,490.41 L979.49,499.01 L979.49,499.01 L992.25,507.61 L1005,499.01 L1017.75,507.61 L1030.51,499.01 L1030.51,499.01 L1043.26,490.41 L1043.26,475.39 L1030.5,466.79 L1017.76,458.19 L1017.76,458.19 L1005,449.59 L992.24,458.19 L992.24,458.19 L979.5,466.79Z" fill="#262926" stroke="#262926" stroke-width="4.6" stroke-linejoin="round"/><g stroke="#465340" stroke-width="1.35" stroke-linejoin="round"><polygon fill="#c6d0b4" points="992.25,458.2 1005,466.8 1005,481.8 992.25,473.2"/><polygon fill="#a7b391" points="1005,466.8 1017.75,458.2 1017.75,473.2 1005,481.8"/><polygon fill="#d9e2cb" points="1005,449.6 1017.75,458.2 1005,466.8 992.25,458.2"/><polygon fill="#c6d0b4" points="1005,466.8 1017.75,475.4 1017.75,490.4 1005,481.8"/><polygon fill="#a7b391" points="1017.75,475.4 1030.5,466.8 1030.5,481.8 1017.75,490.4"/><polygon fill="#d9e2cb" points="1017.75,458.2 1030.5,466.8 1017.75,475.4 1005,466.8"/><polygon fill="#c6d0b4" points="979.5,466.8 992.25,475.4 992.25,490.4 979.5,481.8"/><polygon fill="#a7b391" points="992.25,475.4 1005,466.8 1005,481.8 992.25,490.4"/><polygon fill="#d9e2cb" points="992.25,458.2 1005,466.8 992.25,475.4 979.5,466.8"/><polygon fill="#c6d0b4" points="1017.75,475.4 1030.5,484 1030.5,499 1017.75,490.4"/><polygon fill="#a7b391" points="1030.5,484 1043.25,475.4 1043.25,490.4 1030.5,499"/><polygon fill="#d9e2cb" points="1030.5,466.8 1043.25,475.4 1030.5,484 1017.75,475.4"/><polygon fill="#c6d0b4" points="992.25,475.4 1005,484 1005,499 992.25,490.4"/><polygon fill="#a7b391" points="1005,484 1017.75,475.4 1017.75,490.4 1005,499"/><polygon fill="#d9e2cb" points="1005,466.8 1017.75,475.4 1005,484 992.25,475.4"/><polygon fill="#c6d0b4" points="966.75,475.4 979.5,484 979.5,499 966.75,490.4"/><polygon fill="#a7b391" points="979.5,484 992.25,475.4 992.25,490.4 979.5,499"/><polygon fill="#d9e2cb" points="979.5,466.8 992.25,475.4 979.5,484 966.75,475.4"/><polygon fill="#c6d0b4" points="1005,484 1017.75,492.6 1017.75,507.6 1005,499"/><polygon fill="#a7b391" points="1017.75,492.6 1030.5,484 1030.5,499 1017.75,507.6"/><polygon fill="#d9e2cb" points="1017.75,475.4 1030.5,484 1017.75,492.6 1005,484"/><polygon fill="#c6d0b4" points="979.5,484 992.25,492.6 992.25,507.6 979.5,499"/><polygon fill="#a7b391" points="992.25,492.6 1005,484 1005,499 992.25,507.6"/><polygon fill="#d9e2cb" points="992.25,475.4 1005,484 992.25,492.6 979.5,484"/></g><path d="M966.55,535.29 L953.79,543.89 L953.79,558.91 L966.55,567.51 L979.3,576.11 L992.05,584.71 L1004.8,593.31 L1017.55,584.71 L1030.3,576.11 L1043.05,567.51 L1055.8,558.91 L1055.8,558.91 L1068.56,550.31 L1068.56,535.29 L1055.8,526.69 L1043.05,535.29 L1030.3,526.69 L1017.55,518.09 L1004.8,509.49 L992.05,518.09 L979.3,526.69 L966.55,535.29 L966.55,535.29Z" fill="#262926" stroke="#262926" stroke-width="4.6" stroke-linejoin="round"/><g stroke="#465340" stroke-width="1.35" stroke-linejoin="round"><polygon fill="#c6d0b4" points="992.05,518.1 1004.8,526.7 1004.8,541.7 992.05,533.1"/><polygon fill="#a7b391" points="1004.8,526.7 1017.55,518.1 1017.55,533.1 1004.8,541.7"/><polygon fill="#d9e2cb" points="1004.8,509.5 1017.55,518.1 1004.8,526.7 992.05,518.1"/><polygon fill="#c6d0b4" points="1004.8,526.7 1017.55,535.3 1017.55,550.3 1004.8,541.7"/><polygon fill="#a7b391" points="1017.55,535.3 1030.3,526.7 1030.3,541.7 1017.55,550.3"/><polygon fill="#d9e2cb" points="1017.55,518.1 1030.3,526.7 1017.55,535.3 1004.8,526.7"/><polygon fill="#c6d0b4" points="979.3,526.7 992.05,535.3 992.05,550.3 979.3,541.7"/><polygon fill="#a7b391" points="992.05,535.3 1004.8,526.7 1004.8,541.7 992.05,550.3"/><polygon fill="#d9e2cb" points="992.05,518.1 1004.8,526.7 992.05,535.3 979.3,526.7"/><polygon fill="#c6d0b4" points="1017.55,535.3 1030.3,543.9 1030.3,558.9 1017.55,550.3"/><polygon fill="#a7b391" points="1030.3,543.9 1043.05,535.3 1043.05,550.3 1030.3,558.9"/><polygon fill="#d9e2cb" points="1030.3,526.7 1043.05,535.3 1030.3,543.9 1017.55,535.3"/><polygon fill="#c6d0b4" points="992.05,535.3 1004.8,543.9 1004.8,558.9 992.05,550.3"/><polygon fill="#a7b391" points="1004.8,543.9 1017.55,535.3 1017.55,550.3 1004.8,558.9"/><polygon fill="#d9e2cb" points="1004.8,526.7 1017.55,535.3 1004.8,543.9 992.05,535.3"/><polygon fill="#c6d0b4" points="966.55,535.3 979.3,543.9 979.3,558.9 966.55,550.3"/><polygon fill="#a7b391" points="979.3,543.9 992.05,535.3 992.05,550.3 979.3,558.9"/><polygon fill="#d9e2cb" points="979.3,526.7 992.05,535.3 979.3,543.9 966.55,535.3"/><polygon fill="#c6d0b4" points="1043.05,535.3 1055.8,543.9 1055.8,558.9 1043.05,550.3"/><polygon fill="#a7b391" points="1055.8,543.9 1068.55,535.3 1068.55,550.3 1055.8,558.9"/><polygon fill="#d9e2cb" points="1055.8,526.7 1068.55,535.3 1055.8,543.9 1043.05,535.3"/><polygon fill="#c6d0b4" points="1030.3,543.9 1043.05,552.5 1043.05,567.5 1030.3,558.9"/><polygon fill="#a7b391" points="1043.05,552.5 1055.8,543.9 1055.8,558.9 1043.05,567.5"/><polygon fill="#d9e2cb" points="1043.05,535.3 1055.8,543.9 1043.05,552.5 1030.3,543.9"/><polygon fill="#c6d0b4" points="1004.8,543.9 1017.55,552.5 1017.55,567.5 1004.8,558.9"/><polygon fill="#a7b391" points="1017.55,552.5 1030.3,543.9 1030.3,558.9 1017.55,567.5"/><polygon fill="#d9e2cb" points="1017.55,535.3 1030.3,543.9 1017.55,552.5 1004.8,543.9"/><polygon fill="#c6d0b4" points="979.3,543.9 992.05,552.5 992.05,567.5 979.3,558.9"/><polygon fill="#a7b391" points="992.05,552.5 1004.8,543.9 1004.8,558.9 992.05,567.5"/><polygon fill="#d9e2cb" points="992.05,535.3 1004.8,543.9 992.05,552.5 979.3,543.9"/><polygon fill="#c6d0b4" points="953.8,543.9 966.55,552.5 966.55,567.5 953.8,558.9"/><polygon fill="#a7b391" points="966.55,552.5 979.3,543.9 979.3,558.9 966.55,567.5"/><polygon fill="#d9e2cb" points="966.55,535.3 979.3,543.9 966.55,552.5 953.8,543.9"/><polygon fill="#c6d0b4" points="1017.55,552.5 1030.3,561.1 1030.3,576.1 1017.55,567.5"/><polygon fill="#a7b391" points="1030.3,561.1 1043.05,552.5 1043.05,567.5 1030.3,576.1"/><polygon fill="#d9e2cb" points="1030.3,543.9 1043.05,552.5 1030.3,561.1 1017.55,552.5"/><polygon fill="#c6d0b4" points="992.05,552.5 1004.8,561.1 1004.8,576.1 992.05,567.5"/><polygon fill="#a7b391" points="1004.8,561.1 1017.55,552.5 1017.55,567.5 1004.8,576.1"/><polygon fill="#d9e2cb" points="1004.8,543.9 1017.55,552.5 1004.8,561.1 992.05,552.5"/><polygon fill="#c6d0b4" points="966.55,552.5 979.3,561.1 979.3,576.1 966.55,567.5"/><polygon fill="#a7b391" points="979.3,561.1 992.05,552.5 992.05,567.5 979.3,576.1"/><polygon fill="#d9e2cb" points="979.3,543.9 992.05,552.5 979.3,561.1 966.55,552.5"/><polygon fill="#c6d0b4" points="1004.8,561.1 1017.55,569.7 1017.55,584.7 1004.8,576.1"/><polygon fill="#a7b391" points="1017.55,569.7 1030.3,561.1 1030.3,576.1 1017.55,584.7"/><polygon fill="#d9e2cb" points="1017.55,552.5 1030.3,561.1 1017.55,569.7 1004.8,561.1"/><polygon fill="#c6d0b4" points="979.3,561.1 992.05,569.7 992.05,584.7 979.3,576.1"/><polygon fill="#a7b391" points="992.05,569.7 1004.8,561.1 1004.8,576.1 992.05,584.7"/><polygon fill="#d9e2cb" points="992.05,552.5 1004.8,561.1 992.05,569.7 979.3,561.1"/><polygon fill="#c6d0b4" points="992.05,569.7 1004.8,578.3 1004.8,593.3 992.05,584.7"/><polygon fill="#a7b391" points="1004.8,578.3 1017.55,569.7 1017.55,584.7 1004.8,593.3"/><polygon fill="#d9e2cb" points="1004.8,561.1 1017.55,569.7 1004.8,578.3 992.05,569.7"/></g><path d="M973.25,620.19 L960.5,628.79 L947.74,637.39 L947.74,652.41 L960.5,661.01 L973.25,669.61 L986,678.21 L998.75,686.81 L998.75,686.81 L1011.5,695.41 L1024.25,686.81 L1024.25,686.81 L1037,678.21 L1049.75,669.61 L1062.5,661.01 L1075.26,652.41 L1075.26,637.39 L1062.51,628.79 L1062.51,613.79 L1049.75,605.19 L1049.75,605.19 L1037,596.59 L1024.25,587.99 L1011.5,579.39 L998.74,587.99 L998.74,602.99 L986,611.59 L973.25,620.19 L973.25,620.19Z" fill="#262926" stroke="#262926" stroke-width="4.6" stroke-linejoin="round"/><g stroke="#465340" stroke-width="1.35" stroke-linejoin="round"><polygon fill="#c6d0b4" points="998.75,603 1011.5,611.6 1011.5,626.6 998.75,618"/><polygon fill="#a7b391" points="1011.5,611.6 1024.25,603 1024.25,618 1011.5,626.6"/><polygon fill="#d9e2cb" points="1011.5,594.4 1024.25,603 1011.5,611.6 998.75,603"/><polygon fill="#c6d0b4" points="1011.5,611.6 1024.25,620.2 1024.25,635.2 1011.5,626.6"/><polygon fill="#a7b391" points="1024.25,620.2 1037,611.6 1037,626.6 1024.25,635.2"/><polygon fill="#d9e2cb" points="1024.25,603 1037,611.6 1024.25,620.2 1011.5,611.6"/><polygon fill="#c6d0b4" points="986,611.6 998.75,620.2 998.75,635.2 986,626.6"/><polygon fill="#a7b391" points="998.75,620.2 1011.5,611.6 1011.5,626.6 998.75,635.2"/><polygon fill="#d9e2cb" points="998.75,603 1011.5,611.6 998.75,620.2 986,611.6"/><polygon fill="#c6d0b4" points="998.75,588 1011.5,596.6 1011.5,611.6 998.75,603"/><polygon fill="#a7b391" points="1011.5,596.6 1024.25,588 1024.25,603 1011.5,611.6"/><polygon fill="#d9e2cb" points="1011.5,579.4 1024.25,588 1011.5,596.6 998.75,588"/><polygon fill="#c6d0b4" points="1024.25,620.2 1037,628.8 1037,643.8 1024.25,635.2"/><polygon fill="#a7b391" points="1037,628.8 1049.75,620.2 1049.75,635.2 1037,643.8"/><polygon fill="#d9e2cb" points="1037,611.6 1049.75,620.2 1037,628.8 1024.25,620.2"/><polygon fill="#c6d0b4" points="998.75,620.2 1011.5,628.8 1011.5,643.8 998.75,635.2"/><polygon fill="#a7b391" points="1011.5,628.8 1024.25,620.2 1024.25,635.2 1011.5,643.8"/><polygon fill="#d9e2cb" points="1011.5,611.6 1024.25,620.2 1011.5,628.8 998.75,620.2"/><polygon fill="#c6d0b4" points="973.25,620.2 986,628.8 986,643.8 973.25,635.2"/><polygon fill="#a7b391" points="986,628.8 998.75,620.2 998.75,635.2 986,643.8"/><polygon fill="#d9e2cb" points="986,611.6 998.75,620.2 986,628.8 973.25,620.2"/><polygon fill="#c6d0b4" points="1011.5,596.6 1024.25,605.2 1024.25,620.2 1011.5,611.6"/><polygon fill="#a7b391" points="1024.25,605.2 1037,596.6 1037,611.6 1024.25,620.2"/><polygon fill="#d9e2cb" points="1024.25,588 1037,596.6 1024.25,605.2 1011.5,596.6"/><polygon fill="#c6d0b4" points="1037,628.8 1049.75,637.4 1049.75,652.4 1037,643.8"/><polygon fill="#a7b391" points="1049.75,637.4 1062.5,628.8 1062.5,643.8 1049.75,652.4"/><polygon fill="#d9e2cb" points="1049.75,620.2 1062.5,628.8 1049.75,637.4 1037,628.8"/><polygon fill="#c6d0b4" points="1011.5,628.8 1024.25,637.4 1024.25,652.4 1011.5,643.8"/><polygon fill="#a7b391" points="1024.25,637.4 1037,628.8 1037,643.8 1024.25,652.4"/><polygon fill="#d9e2cb" points="1024.25,620.2 1037,628.8 1024.25,637.4 1011.5,628.8"/><polygon fill="#c6d0b4" points="986,628.8 998.75,637.4 998.75,652.4 986,643.8"/><polygon fill="#a7b391" points="998.75,637.4 1011.5,628.8 1011.5,643.8 998.75,652.4"/><polygon fill="#d9e2cb" points="998.75,620.2 1011.5,628.8 998.75,637.4 986,628.8"/><polygon fill="#c6d0b4" points="960.5,628.8 973.25,637.4 973.25,652.4 960.5,643.8"/><polygon fill="#a7b391" points="973.25,637.4 986,628.8 986,643.8 973.25,652.4"/><polygon fill="#d9e2cb" points="973.25,620.2 986,628.8 973.25,637.4 960.5,628.8"/><polygon fill="#c6d0b4" points="1024.25,605.2 1037,613.8 1037,628.8 1024.25,620.2"/><polygon fill="#a7b391" points="1037,613.8 1049.75,605.2 1049.75,620.2 1037,628.8"/><polygon fill="#d9e2cb" points="1037,596.6 1049.75,605.2 1037,613.8 1024.25,605.2"/><polygon fill="#c6d0b4" points="1049.75,637.4 1062.5,646 1062.5,661 1049.75,652.4"/><polygon fill="#a7b391" points="1062.5,646 1075.25,637.4 1075.25,652.4 1062.5,661"/><polygon fill="#d9e2cb" points="1062.5,628.8 1075.25,637.4 1062.5,646 1049.75,637.4"/><polygon fill="#c6d0b4" points="1024.25,637.4 1037,646 1037,661 1024.25,652.4"/><polygon fill="#a7b391" points="1037,646 1049.75,637.4 1049.75,652.4 1037,661"/><polygon fill="#d9e2cb" points="1037,628.8 1049.75,637.4 1037,646 1024.25,637.4"/><polygon fill="#c6d0b4" points="998.75,637.4 1011.5,646 1011.5,661 998.75,652.4"/><polygon fill="#a7b391" points="1011.5,646 1024.25,637.4 1024.25,652.4 1011.5,661"/><polygon fill="#d9e2cb" points="1011.5,628.8 1024.25,637.4 1011.5,646 998.75,637.4"/><polygon fill="#c6d0b4" points="973.25,637.4 986,646 986,661 973.25,652.4"/><polygon fill="#a7b391" points="986,646 998.75,637.4 998.75,652.4 986,661"/><polygon fill="#d9e2cb" points="986,628.8 998.75,637.4 986,646 973.25,637.4"/><polygon fill="#c6d0b4" points="947.75,637.4 960.5,646 960.5,661 947.75,652.4"/><polygon fill="#a7b391" points="960.5,646 973.25,637.4 973.25,652.4 960.5,661"/><polygon fill="#d9e2cb" points="960.5,628.8 973.25,637.4 960.5,646 947.75,637.4"/><polygon fill="#c6d0b4" points="1037,613.8 1049.75,622.4 1049.75,637.4 1037,628.8"/><polygon fill="#a7b391" points="1049.75,622.4 1062.5,613.8 1062.5,628.8 1049.75,637.4"/><polygon fill="#d9e2cb" points="1049.75,605.2 1062.5,613.8 1049.75,622.4 1037,613.8"/><polygon fill="#c6d0b4" points="1037,646 1049.75,654.6 1049.75,669.6 1037,661"/><polygon fill="#a7b391" points="1049.75,654.6 1062.5,646 1062.5,661 1049.75,669.6"/><polygon fill="#d9e2cb" points="1049.75,637.4 1062.5,646 1049.75,654.6 1037,646"/><polygon fill="#c6d0b4" points="1011.5,646 1024.25,654.6 1024.25,669.6 1011.5,661"/><polygon fill="#a7b391" points="1024.25,654.6 1037,646 1037,661 1024.25,669.6"/><polygon fill="#d9e2cb" points="1024.25,637.4 1037,646 1024.25,654.6 1011.5,646"/><polygon fill="#c6d0b4" points="986,646 998.75,654.6 998.75,669.6 986,661"/><polygon fill="#a7b391" points="998.75,654.6 1011.5,646 1011.5,661 998.75,669.6"/><polygon fill="#d9e2cb" points="998.75,637.4 1011.5,646 998.75,654.6 986,646"/><polygon fill="#c6d0b4" points="960.5,646 973.25,654.6 973.25,669.6 960.5,661"/><polygon fill="#a7b391" points="973.25,654.6 986,646 986,661 973.25,669.6"/><polygon fill="#d9e2cb" points="973.25,637.4 986,646 973.25,654.6 960.5,646"/><polygon fill="#c6d0b4" points="1024.25,654.6 1037,663.2 1037,678.2 1024.25,669.6"/><polygon fill="#a7b391" points="1037,663.2 1049.75,654.6 1049.75,669.6 1037,678.2"/><polygon fill="#d9e2cb" points="1037,646 1049.75,654.6 1037,663.2 1024.25,654.6"/><polygon fill="#c6d0b4" points="998.75,654.6 1011.5,663.2 1011.5,678.2 998.75,669.6"/><polygon fill="#a7b391" points="1011.5,663.2 1024.25,654.6 1024.25,669.6 1011.5,678.2"/><polygon fill="#d9e2cb" points="1011.5,646 1024.25,654.6 1011.5,663.2 998.75,654.6"/><polygon fill="#c6d0b4" points="973.25,654.6 986,663.2 986,678.2 973.25,669.6"/><polygon fill="#a7b391" points="986,663.2 998.75,654.6 998.75,669.6 986,678.2"/><polygon fill="#d9e2cb" points="986,646 998.75,654.6 986,663.2 973.25,654.6"/><polygon fill="#c6d0b4" points="1011.5,663.2 1024.25,671.8 1024.25,686.8 1011.5,678.2"/><polygon fill="#a7b391" points="1024.25,671.8 1037,663.2 1037,678.2 1024.25,686.8"/><polygon fill="#d9e2cb" points="1024.25,654.6 1037,663.2 1024.25,671.8 1011.5,663.2"/><polygon fill="#c6d0b4" points="986,663.2 998.75,671.8 998.75,686.8 986,678.2"/><polygon fill="#a7b391" points="998.75,671.8 1011.5,663.2 1011.5,678.2 998.75,686.8"/><polygon fill="#d9e2cb" points="998.75,654.6 1011.5,663.2 998.75,671.8 986,663.2"/><polygon fill="#c6d0b4" points="998.75,671.8 1011.5,680.4 1011.5,695.4 998.75,686.8"/><polygon fill="#a7b391" points="1011.5,680.4 1024.25,671.8 1024.25,686.8 1011.5,695.4"/><polygon fill="#d9e2cb" points="1011.5,663.2 1024.25,671.8 1011.5,680.4 998.75,671.8"/></g><path d="M967.6,731.49 L954.84,740.09 L954.84,755.11 L967.6,763.71 L980.35,772.31 L993.1,780.91 L1005.85,789.51 L1005.85,789.51 L1018.6,798.11 L1031.35,789.51 L1031.35,789.51 L1044.1,780.91 L1056.85,772.31 L1069.6,763.71 L1082.36,755.11 L1082.36,740.11 L1082.36,740.09 L1082.36,725.09 L1069.6,716.49 L1056.85,707.89 L1056.85,707.89 L1044.1,699.29 L1031.35,690.69 L1018.6,682.09 L1005.85,690.69 L993.1,699.29 L980.34,707.89 L980.34,722.89 L967.6,731.49Z" fill="#262926" stroke="#262926" stroke-width="4.6" stroke-linejoin="round"/><g stroke="#465340" stroke-width="1.35" stroke-linejoin="round"><polygon fill="#c6d0b4" points="1005.85,705.7 1018.6,714.3 1018.6,729.3 1005.85,720.7"/><polygon fill="#a7b391" points="1018.6,714.3 1031.35,705.7 1031.35,720.7 1018.6,729.3"/><polygon fill="#d9e2cb" points="1018.6,697.1 1031.35,705.7 1018.6,714.3 1005.85,705.7"/><polygon fill="#c6d0b4" points="1018.6,714.3 1031.35,722.9 1031.35,737.9 1018.6,729.3"/><polygon fill="#a7b391" points="1031.35,722.9 1044.1,714.3 1044.1,729.3 1031.35,737.9"/><polygon fill="#d9e2cb" points="1031.35,705.7 1044.1,714.3 1031.35,722.9 1018.6,714.3"/><polygon fill="#c6d0b4" points="993.1,714.3 1005.85,722.9 1005.85,737.9 993.1,729.3"/><polygon fill="#a7b391" points="1005.85,722.9 1018.6,714.3 1018.6,729.3 1005.85,737.9"/><polygon fill="#d9e2cb" points="1005.85,705.7 1018.6,714.3 1005.85,722.9 993.1,714.3"/><polygon fill="#c6d0b4" points="1005.85,690.7 1018.6,699.3 1018.6,714.3 1005.85,705.7"/><polygon fill="#a7b391" points="1018.6,699.3 1031.35,690.7 1031.35,705.7 1018.6,714.3"/><polygon fill="#d9e2cb" points="1018.6,682.1 1031.35,690.7 1018.6,699.3 1005.85,690.7"/><polygon fill="#c6d0b4" points="1031.35,722.9 1044.1,731.5 1044.1,746.5 1031.35,737.9"/><polygon fill="#a7b391" points="1044.1,731.5 1056.85,722.9 1056.85,737.9 1044.1,746.5"/><polygon fill="#d9e2cb" points="1044.1,714.3 1056.85,722.9 1044.1,731.5 1031.35,722.9"/><polygon fill="#c6d0b4" points="1005.85,722.9 1018.6,731.5 1018.6,746.5 1005.85,737.9"/><polygon fill="#a7b391" points="1018.6,731.5 1031.35,722.9 1031.35,737.9 1018.6,746.5"/><polygon fill="#d9e2cb" points="1018.6,714.3 1031.35,722.9 1018.6,731.5 1005.85,722.9"/><polygon fill="#c6d0b4" points="980.35,722.9 993.1,731.5 993.1,746.5 980.35,737.9"/><polygon fill="#a7b391" points="993.1,731.5 1005.85,722.9 1005.85,737.9 993.1,746.5"/><polygon fill="#d9e2cb" points="993.1,714.3 1005.85,722.9 993.1,731.5 980.35,722.9"/><polygon fill="#c6d0b4" points="1018.6,699.3 1031.35,707.9 1031.35,722.9 1018.6,714.3"/><polygon fill="#a7b391" points="1031.35,707.9 1044.1,699.3 1044.1,714.3 1031.35,722.9"/><polygon fill="#d9e2cb" points="1031.35,690.7 1044.1,699.3 1031.35,707.9 1018.6,699.3"/><polygon fill="#c6d0b4" points="993.1,699.3 1005.85,707.9 1005.85,722.9 993.1,714.3"/><polygon fill="#a7b391" points="1005.85,707.9 1018.6,699.3 1018.6,714.3 1005.85,722.9"/><polygon fill="#d9e2cb" points="1005.85,690.7 1018.6,699.3 1005.85,707.9 993.1,699.3"/><polygon fill="#c6d0b4" points="1044.1,731.5 1056.85,740.1 1056.85,755.1 1044.1,746.5"/><polygon fill="#a7b391" points="1056.85,740.1 1069.6,731.5 1069.6,746.5 1056.85,755.1"/><polygon fill="#d9e2cb" points="1056.85,722.9 1069.6,731.5 1056.85,740.1 1044.1,731.5"/><polygon fill="#c6d0b4" points="1018.6,731.5 1031.35,740.1 1031.35,755.1 1018.6,746.5"/><polygon fill="#a7b391" points="1031.35,740.1 1044.1,731.5 1044.1,746.5 1031.35,755.1"/><polygon fill="#d9e2cb" points="1031.35,722.9 1044.1,731.5 1031.35,740.1 1018.6,731.5"/><polygon fill="#c6d0b4" points="993.1,731.5 1005.85,740.1 1005.85,755.1 993.1,746.5"/><polygon fill="#a7b391" points="1005.85,740.1 1018.6,731.5 1018.6,746.5 1005.85,755.1"/><polygon fill="#d9e2cb" points="1005.85,722.9 1018.6,731.5 1005.85,740.1 993.1,731.5"/><polygon fill="#c6d0b4" points="967.6,731.5 980.35,740.1 980.35,755.1 967.6,746.5"/><polygon fill="#a7b391" points="980.35,740.1 993.1,731.5 993.1,746.5 980.35,755.1"/><polygon fill="#d9e2cb" points="980.35,722.9 993.1,731.5 980.35,740.1 967.6,731.5"/><polygon fill="#c6d0b4" points="1031.35,707.9 1044.1,716.5 1044.1,731.5 1031.35,722.9"/><polygon fill="#a7b391" points="1044.1,716.5 1056.85,707.9 1056.85,722.9 1044.1,731.5"/><polygon fill="#d9e2cb" points="1044.1,699.3 1056.85,707.9 1044.1,716.5 1031.35,707.9"/><polygon fill="#c6d0b4" points="1005.85,707.9 1018.6,716.5 1018.6,731.5 1005.85,722.9"/><polygon fill="#a7b391" points="1018.6,716.5 1031.35,707.9 1031.35,722.9 1018.6,731.5"/><polygon fill="#d9e2cb" points="1018.6,699.3 1031.35,707.9 1018.6,716.5 1005.85,707.9"/><polygon fill="#c6d0b4" points="980.35,707.9 993.1,716.5 993.1,731.5 980.35,722.9"/><polygon fill="#a7b391" points="993.1,716.5 1005.85,707.9 1005.85,722.9 993.1,731.5"/><polygon fill="#d9e2cb" points="993.1,699.3 1005.85,707.9 993.1,716.5 980.35,707.9"/><polygon fill="#c6d0b4" points="1056.85,740.1 1069.6,748.7 1069.6,763.7 1056.85,755.1"/><polygon fill="#a7b391" points="1069.6,748.7 1082.35,740.1 1082.35,755.1 1069.6,763.7"/><polygon fill="#d9e2cb" points="1069.6,731.5 1082.35,740.1 1069.6,748.7 1056.85,740.1"/><polygon fill="#c6d0b4" points="1031.35,740.1 1044.1,748.7 1044.1,763.7 1031.35,755.1"/><polygon fill="#a7b391" points="1044.1,748.7 1056.85,740.1 1056.85,755.1 1044.1,763.7"/><polygon fill="#d9e2cb" points="1044.1,731.5 1056.85,740.1 1044.1,748.7 1031.35,740.1"/><polygon fill="#c6d0b4" points="1005.85,740.1 1018.6,748.7 1018.6,763.7 1005.85,755.1"/><polygon fill="#a7b391" points="1018.6,748.7 1031.35,740.1 1031.35,755.1 1018.6,763.7"/><polygon fill="#d9e2cb" points="1018.6,731.5 1031.35,740.1 1018.6,748.7 1005.85,740.1"/><polygon fill="#c6d0b4" points="980.35,740.1 993.1,748.7 993.1,763.7 980.35,755.1"/><polygon fill="#a7b391" points="993.1,748.7 1005.85,740.1 1005.85,755.1 993.1,763.7"/><polygon fill="#d9e2cb" points="993.1,731.5 1005.85,740.1 993.1,748.7 980.35,740.1"/><polygon fill="#c6d0b4" points="954.85,740.1 967.6,748.7 967.6,763.7 954.85,755.1"/><polygon fill="#a7b391" points="967.6,748.7 980.35,740.1 980.35,755.1 967.6,763.7"/><polygon fill="#d9e2cb" points="967.6,731.5 980.35,740.1 967.6,748.7 954.85,740.1"/><polygon fill="#c6d0b4" points="1044.1,716.5 1056.85,725.1 1056.85,740.1 1044.1,731.5"/><polygon fill="#a7b391" points="1056.85,725.1 1069.6,716.5 1069.6,731.5 1056.85,740.1"/><polygon fill="#d9e2cb" points="1056.85,707.9 1069.6,716.5 1056.85,725.1 1044.1,716.5"/><polygon fill="#c6d0b4" points="1018.6,716.5 1031.35,725.1 1031.35,740.1 1018.6,731.5"/><polygon fill="#a7b391" points="1031.35,725.1 1044.1,716.5 1044.1,731.5 1031.35,740.1"/><polygon fill="#d9e2cb" points="1031.35,707.9 1044.1,716.5 1031.35,725.1 1018.6,716.5"/><polygon fill="#c6d0b4" points="1044.1,748.7 1056.85,757.3 1056.85,772.3 1044.1,763.7"/><polygon fill="#a7b391" points="1056.85,757.3 1069.6,748.7 1069.6,763.7 1056.85,772.3"/><polygon fill="#d9e2cb" points="1056.85,740.1 1069.6,748.7 1056.85,757.3 1044.1,748.7"/><polygon fill="#c6d0b4" points="1018.6,748.7 1031.35,757.3 1031.35,772.3 1018.6,763.7"/><polygon fill="#a7b391" points="1031.35,757.3 1044.1,748.7 1044.1,763.7 1031.35,772.3"/><polygon fill="#d9e2cb" points="1031.35,740.1 1044.1,748.7 1031.35,757.3 1018.6,748.7"/><polygon fill="#c6d0b4" points="993.1,748.7 1005.85,757.3 1005.85,772.3 993.1,763.7"/><polygon fill="#a7b391" points="1005.85,757.3 1018.6,748.7 1018.6,763.7 1005.85,772.3"/><polygon fill="#d9e2cb" points="1005.85,740.1 1018.6,748.7 1005.85,757.3 993.1,748.7"/><polygon fill="#c6d0b4" points="967.6,748.7 980.35,757.3 980.35,772.3 967.6,763.7"/><polygon fill="#a7b391" points="980.35,757.3 993.1,748.7 993.1,763.7 980.35,772.3"/><polygon fill="#d9e2cb" points="980.35,740.1 993.1,748.7 980.35,757.3 967.6,748.7"/><polygon fill="#c6d0b4" points="1056.85,725.1 1069.6,733.7 1069.6,748.7 1056.85,740.1"/><polygon fill="#a7b391" points="1069.6,733.7 1082.35,725.1 1082.35,740.1 1069.6,748.7"/><polygon fill="#d9e2cb" points="1069.6,716.5 1082.35,725.1 1069.6,733.7 1056.85,725.1"/><polygon fill="#c6d0b4" points="1031.35,725.1 1044.1,733.7 1044.1,748.7 1031.35,740.1"/><polygon fill="#a7b391" points="1044.1,733.7 1056.85,725.1 1056.85,740.1 1044.1,748.7"/><polygon fill="#d9e2cb" points="1044.1,716.5 1056.85,725.1 1044.1,733.7 1031.35,725.1"/><polygon fill="#c6d0b4" points="1031.35,757.3 1044.1,765.9 1044.1,780.9 1031.35,772.3"/><polygon fill="#a7b391" points="1044.1,765.9 1056.85,757.3 1056.85,772.3 1044.1,780.9"/><polygon fill="#d9e2cb" points="1044.1,748.7 1056.85,757.3 1044.1,765.9 1031.35,757.3"/><polygon fill="#c6d0b4" points="1005.85,757.3 1018.6,765.9 1018.6,780.9 1005.85,772.3"/><polygon fill="#a7b391" points="1018.6,765.9 1031.35,757.3 1031.35,772.3 1018.6,780.9"/><polygon fill="#d9e2cb" points="1018.6,748.7 1031.35,757.3 1018.6,765.9 1005.85,757.3"/><polygon fill="#c6d0b4" points="980.35,757.3 993.1,765.9 993.1,780.9 980.35,772.3"/><polygon fill="#a7b391" points="993.1,765.9 1005.85,757.3 1005.85,772.3 993.1,780.9"/><polygon fill="#d9e2cb" points="993.1,748.7 1005.85,757.3 993.1,765.9 980.35,757.3"/><polygon fill="#c6d0b4" points="1044.1,733.7 1056.85,742.3 1056.85,757.3 1044.1,748.7"/><polygon fill="#a7b391" points="1056.85,742.3 1069.6,733.7 1069.6,748.7 1056.85,757.3"/><polygon fill="#d9e2cb" points="1056.85,725.1 1069.6,733.7 1056.85,742.3 1044.1,733.7"/><polygon fill="#c6d0b4" points="1018.6,765.9 1031.35,774.5 1031.35,789.5 1018.6,780.9"/><polygon fill="#a7b391" points="1031.35,774.5 1044.1,765.9 1044.1,780.9 1031.35,789.5"/><polygon fill="#d9e2cb" points="1031.35,757.3 1044.1,765.9 1031.35,774.5 1018.6,765.9"/><polygon fill="#c6d0b4" points="993.1,765.9 1005.85,774.5 1005.85,789.5 993.1,780.9"/><polygon fill="#a7b391" points="1005.85,774.5 1018.6,765.9 1018.6,780.9 1005.85,789.5"/><polygon fill="#d9e2cb" points="1005.85,757.3 1018.6,765.9 1005.85,774.5 993.1,765.9"/><polygon fill="#c6d0b4" points="1005.85,774.5 1018.6,783.1 1018.6,798.1 1005.85,789.5"/><polygon fill="#a7b391" points="1018.6,783.1 1031.35,774.5 1031.35,789.5 1018.6,798.1"/><polygon fill="#d9e2cb" points="1018.6,765.9 1031.35,774.5 1018.6,783.1 1005.85,774.5"/></g><text opacity="0.9" x="273.15" y="283.55" font-size="25.6" font-weight="normal" fill="#ffffff" textLength="12.53" lengthAdjust="spacingAndGlyphs" stroke="#ffffff" stroke-width="3.2" stroke-linejoin="round">3</text><text x="273.15" y="283.55" font-size="25.6" font-weight="normal" fill="#1c1a1b" textLength="12.53" lengthAdjust="spacingAndGlyphs" stroke="#1c1a1b" stroke-width="0.6" stroke-linejoin="round">3</text><text opacity="0.9" x="275.25" y="351.84" font-size="25.6" font-weight="normal" fill="#ffffff" textLength="12.53" lengthAdjust="spacingAndGlyphs" stroke="#ffffff" stroke-width="3.2" stroke-linejoin="round">4</text><text x="275.25" y="351.84" font-size="25.6" font-weight="normal" fill="#1c1a1b" textLength="12.53" lengthAdjust="spacingAndGlyphs" stroke="#1c1a1b" stroke-width="0.6" stroke-linejoin="round">4</text><text opacity="0.9" x="275.35" y="420.12" font-size="25.6" font-weight="normal" fill="#ffffff" textLength="12.53" lengthAdjust="spacingAndGlyphs" stroke="#ffffff" stroke-width="3.2" stroke-linejoin="round">6</text><text x="275.35" y="420.12" font-size="25.6" font-weight="normal" fill="#1c1a1b" textLength="12.53" lengthAdjust="spacingAndGlyphs" stroke="#1c1a1b" stroke-width="0.6" stroke-linejoin="round">6</text><text opacity="0.9" x="275.35" y="488.42" font-size="25.6" font-weight="normal" fill="#ffffff" textLength="12.53" lengthAdjust="spacingAndGlyphs" stroke="#ffffff" stroke-width="3.2" stroke-linejoin="round">6</text><text x="275.35" y="488.42" font-size="25.6" font-weight="normal" fill="#1c1a1b" textLength="12.53" lengthAdjust="spacingAndGlyphs" stroke="#1c1a1b" stroke-width="0.6" stroke-linejoin="round">6</text><text opacity="0.9" x="432.95" y="488.42" font-size="25.6" font-weight="normal" fill="#ffffff" textLength="12.53" lengthAdjust="spacingAndGlyphs" stroke="#ffffff" stroke-width="3.2" stroke-linejoin="round">2</text><text x="432.95" y="488.42" font-size="25.6" font-weight="normal" fill="#1c1a1b" textLength="12.53" lengthAdjust="spacingAndGlyphs" stroke="#1c1a1b" stroke-width="0.6" stroke-linejoin="round">2</text><path d="M272.1,544.31 L276.5,540.31 L276.5,556.21 M276.5,540.31 L276.5,556.71" fill="none" stroke="#fff" stroke-opacity="0.9" stroke-width="5.2" stroke-linejoin="round"/><text opacity="0.9" x="283.05" y="556.71" font-size="25.6" font-weight="normal" fill="#ffffff" textLength="12.53" lengthAdjust="spacingAndGlyphs" stroke="#ffffff" stroke-width="3.2" stroke-linejoin="round">0</text><polygon fill="#1c1a1b" points="274.73,539.11 277.88,539.11 277.88,556.71 275.12,556.71 275.12,542.81 272.8,545.5 271.5,543.21"/><text x="283.05" y="556.71" font-size="25.6" font-weight="normal" fill="#1c1a1b" textLength="12.53" lengthAdjust="spacingAndGlyphs" stroke="#1c1a1b" stroke-width="0.6" stroke-linejoin="round">0</text><text opacity="0.9" x="432.95" y="556.71" font-size="25.6" font-weight="normal" fill="#ffffff" textLength="12.53" lengthAdjust="spacingAndGlyphs" stroke="#ffffff" stroke-width="3.2" stroke-linejoin="round">3</text><text x="432.95" y="556.71" font-size="25.6" font-weight="normal" fill="#1c1a1b" textLength="12.53" lengthAdjust="spacingAndGlyphs" stroke="#1c1a1b" stroke-width="0.6" stroke-linejoin="round">3</text><text opacity="0.9" x="748.35" y="556.71" font-size="25.6" font-weight="normal" fill="#ffffff" textLength="12.53" lengthAdjust="spacingAndGlyphs" stroke="#ffffff" stroke-width="3.2" stroke-linejoin="round">3</text><text x="748.35" y="556.71" font-size="25.6" font-weight="normal" fill="#1c1a1b" textLength="12.53" lengthAdjust="spacingAndGlyphs" stroke="#1c1a1b" stroke-width="0.6" stroke-linejoin="round">3</text><path d="M906.8,544.31 L911.2,540.31 L911.2,556.21 M911.2,540.31 L911.2,556.71" fill="none" stroke="#fff" stroke-opacity="0.9" stroke-width="5.2" stroke-linejoin="round"/><polygon fill="#1c1a1b" points="909.43,539.11 912.58,539.11 912.58,556.71 909.83,556.71 909.83,542.81 907.5,545.5 906.2,543.21"/><path d="M272.1,612.6 L276.5,608.6 L276.5,624.5 M276.5,608.6 L276.5,625" fill="none" stroke="#fff" stroke-opacity="0.9" stroke-width="5.2" stroke-linejoin="round"/><text opacity="0.9" x="283.05" y="625" font-size="25.6" font-weight="normal" fill="#ffffff" textLength="12.53" lengthAdjust="spacingAndGlyphs" stroke="#ffffff" stroke-width="3.2" stroke-linejoin="round">0</text><polygon fill="#1c1a1b" points="274.73,607.39 277.88,607.39 277.88,625 275.12,625 275.12,611.1 272.8,613.79 271.5,611.5"/><text x="283.05" y="625" font-size="25.6" font-weight="normal" fill="#1c1a1b" textLength="12.53" lengthAdjust="spacingAndGlyphs" stroke="#1c1a1b" stroke-width="0.6" stroke-linejoin="round">0</text><text opacity="0.9" x="432.95" y="625" font-size="25.6" font-weight="normal" fill="#ffffff" textLength="12.53" lengthAdjust="spacingAndGlyphs" stroke="#ffffff" stroke-width="3.2" stroke-linejoin="round">6</text><text x="432.95" y="625" font-size="25.6" font-weight="normal" fill="#1c1a1b" textLength="12.53" lengthAdjust="spacingAndGlyphs" stroke="#1c1a1b" stroke-width="0.6" stroke-linejoin="round">6</text><text opacity="0.9" x="587.95" y="625" font-size="25.6" font-weight="normal" fill="#ffffff" textLength="12.53" lengthAdjust="spacingAndGlyphs" stroke="#ffffff" stroke-width="3.2" stroke-linejoin="round">2</text><text x="587.95" y="625" font-size="25.6" font-weight="normal" fill="#1c1a1b" textLength="12.53" lengthAdjust="spacingAndGlyphs" stroke="#1c1a1b" stroke-width="0.6" stroke-linejoin="round">2</text><path d="M743.7,612.6 L748.1,608.6 L748.1,624.5 M748.1,608.6 L748.1,625" fill="none" stroke="#fff" stroke-opacity="0.9" stroke-width="5.2" stroke-linejoin="round"/><text opacity="0.9" x="754.65" y="625" font-size="25.6" font-weight="normal" fill="#ffffff" textLength="12.53" lengthAdjust="spacingAndGlyphs" stroke="#ffffff" stroke-width="3.2" stroke-linejoin="round">0</text><polygon fill="#1c1a1b" points="746.33,607.39 749.48,607.39 749.48,625 746.73,625 746.73,611.1 744.4,613.79 743.1,611.5"/><text x="754.65" y="625" font-size="25.6" font-weight="normal" fill="#1c1a1b" textLength="12.53" lengthAdjust="spacingAndGlyphs" stroke="#1c1a1b" stroke-width="0.6" stroke-linejoin="round">0</text><path d="M906.8,612.6 L911.2,608.6 L911.2,624.5 M911.2,608.6 L911.2,625" fill="none" stroke="#fff" stroke-opacity="0.9" stroke-width="5.2" stroke-linejoin="round"/><polygon fill="#1c1a1b" points="909.43,607.39 912.58,607.39 912.58,625 909.83,625 909.83,611.1 907.5,613.79 906.2,611.5"/><path d="M269.6,680.88 L274,676.88 L274,692.78 M274,676.88 L274,693.28" fill="none" stroke="#fff" stroke-opacity="0.9" stroke-width="5.2" stroke-linejoin="round"/><text opacity="0.9" x="280.55" y="693.28" font-size="25.6" font-weight="normal" fill="#ffffff" textLength="12.53" lengthAdjust="spacingAndGlyphs" stroke="#ffffff" stroke-width="3.2" stroke-linejoin="round">4</text><polygon fill="#1c1a1b" points="272.23,675.68 275.38,675.68 275.38,693.28 272.62,693.28 272.62,679.38 270.3,682.08 269,679.78"/><text x="280.55" y="693.28" font-size="25.6" font-weight="normal" fill="#1c1a1b" textLength="12.53" lengthAdjust="spacingAndGlyphs" stroke="#1c1a1b" stroke-width="0.6" stroke-linejoin="round">4</text><text opacity="0.9" x="432.95" y="693.28" font-size="25.6" font-weight="normal" fill="#ffffff" textLength="12.53" lengthAdjust="spacingAndGlyphs" stroke="#ffffff" stroke-width="3.2" stroke-linejoin="round">7</text><text x="432.95" y="693.28" font-size="25.6" font-weight="normal" fill="#1c1a1b" textLength="12.53" lengthAdjust="spacingAndGlyphs" stroke="#1c1a1b" stroke-width="0.6" stroke-linejoin="round">7</text><text opacity="0.9" x="587.95" y="693.28" font-size="25.6" font-weight="normal" fill="#ffffff" textLength="12.53" lengthAdjust="spacingAndGlyphs" stroke="#ffffff" stroke-width="3.2" stroke-linejoin="round">3</text><text x="587.95" y="693.28" font-size="25.6" font-weight="normal" fill="#1c1a1b" textLength="12.53" lengthAdjust="spacingAndGlyphs" stroke="#1c1a1b" stroke-width="0.6" stroke-linejoin="round">3</text><path d="M745.25,680.88 L749.65,676.88 L749.65,692.78 M749.65,676.88 L749.65,693.28" fill="none" stroke="#fff" stroke-opacity="0.9" stroke-width="5.2" stroke-linejoin="round"/><path d="M758.75,680.88 L763.15,676.88 L763.15,692.78 M763.15,676.88 L763.15,693.28" fill="none" stroke="#fff" stroke-opacity="0.9" stroke-width="5.2" stroke-linejoin="round"/><polygon fill="#1c1a1b" points="747.88,675.68 751.03,675.68 751.03,693.28 748.28,693.28 748.28,679.38 745.95,682.08 744.65,679.78"/><polygon fill="#1c1a1b" points="761.38,675.68 764.53,675.68 764.53,693.28 761.78,693.28 761.78,679.38 759.45,682.08 758.15,679.78"/><path d="M906.8,680.88 L911.2,676.88 L911.2,692.78 M911.2,676.88 L911.2,693.28" fill="none" stroke="#fff" stroke-opacity="0.9" stroke-width="5.2" stroke-linejoin="round"/><polygon fill="#1c1a1b" points="909.43,675.68 912.58,675.68 912.58,693.28 909.83,693.28 909.83,679.38 907.5,682.08 906.2,679.78"/><text opacity="0.9" x="1079.65" y="283.35" font-size="25.6" font-weight="normal" fill="#ffffff" textLength="12.53" lengthAdjust="spacingAndGlyphs" stroke="#ffffff" stroke-width="3.2" stroke-linejoin="round">3</text><text x="1079.65" y="283.35" font-size="25.6" font-weight="normal" fill="#1c1a1b" textLength="12.53" lengthAdjust="spacingAndGlyphs" stroke="#1c1a1b" stroke-width="0.6" stroke-linejoin="round">3</text><text opacity="0.9" x="1079.65" y="351.63" font-size="25.6" font-weight="normal" fill="#ffffff" textLength="12.53" lengthAdjust="spacingAndGlyphs" stroke="#ffffff" stroke-width="3.2" stroke-linejoin="round">4</text><text x="1079.65" y="351.63" font-size="25.6" font-weight="normal" fill="#1c1a1b" textLength="12.53" lengthAdjust="spacingAndGlyphs" stroke="#1c1a1b" stroke-width="0.6" stroke-linejoin="round">4</text><text opacity="0.9" x="1079.65" y="419.92" font-size="25.6" font-weight="normal" fill="#ffffff" textLength="12.53" lengthAdjust="spacingAndGlyphs" stroke="#ffffff" stroke-width="3.2" stroke-linejoin="round">6</text><text x="1079.65" y="419.92" font-size="25.6" font-weight="normal" fill="#1c1a1b" textLength="12.53" lengthAdjust="spacingAndGlyphs" stroke="#1c1a1b" stroke-width="0.6" stroke-linejoin="round">6</text><text opacity="0.9" x="1079.85" y="488.22" font-size="25.6" font-weight="normal" fill="#ffffff" textLength="12.53" lengthAdjust="spacingAndGlyphs" stroke="#ffffff" stroke-width="3.2" stroke-linejoin="round">8</text><text x="1079.85" y="488.22" font-size="25.6" font-weight="normal" fill="#1c1a1b" textLength="12.53" lengthAdjust="spacingAndGlyphs" stroke="#1c1a1b" stroke-width="0.6" stroke-linejoin="round">8</text><path d="M1074.9,544.11 L1079.3,540.11 L1079.3,556 M1079.3,540.11 L1079.3,556.5" fill="none" stroke="#fff" stroke-opacity="0.9" stroke-width="5.2" stroke-linejoin="round"/><text opacity="0.9" x="1085.85" y="556.5" font-size="25.6" font-weight="normal" fill="#ffffff" textLength="12.53" lengthAdjust="spacingAndGlyphs" stroke="#ffffff" stroke-width="3.2" stroke-linejoin="round">7</text><polygon fill="#1c1a1b" points="1077.52,538.9 1080.67,538.9 1080.67,556.5 1077.92,556.5 1077.92,542.61 1075.6,545.3 1074.3,543"/><text x="1085.85" y="556.5" font-size="25.6" font-weight="normal" fill="#1c1a1b" textLength="12.53" lengthAdjust="spacingAndGlyphs" stroke="#1c1a1b" stroke-width="0.6" stroke-linejoin="round">7</text><text opacity="0.9" x="1072.5" y="624.79" font-size="25.6" font-weight="normal" fill="#ffffff" textLength="12.53" lengthAdjust="spacingAndGlyphs" stroke="#ffffff" stroke-width="3.2" stroke-linejoin="round">2</text><text opacity="0.9" x="1086" y="624.79" font-size="25.6" font-weight="normal" fill="#ffffff" textLength="12.53" lengthAdjust="spacingAndGlyphs" stroke="#ffffff" stroke-width="3.2" stroke-linejoin="round">9</text><text x="1072.5" y="624.79" font-size="25.6" font-weight="normal" fill="#1c1a1b" textLength="12.53" lengthAdjust="spacingAndGlyphs" stroke="#1c1a1b" stroke-width="0.6" stroke-linejoin="round">2</text><text x="1086" y="624.79" font-size="25.6" font-weight="normal" fill="#1c1a1b" textLength="12.53" lengthAdjust="spacingAndGlyphs" stroke="#1c1a1b" stroke-width="0.6" stroke-linejoin="round">9</text><text opacity="0.9" x="1069.7" y="693.08" font-size="25.6" font-weight="normal" fill="#ffffff" textLength="12.53" lengthAdjust="spacingAndGlyphs" stroke="#ffffff" stroke-width="3.2" stroke-linejoin="round">3</text><text opacity="0.9" x="1083.2" y="693.08" font-size="25.6" font-weight="normal" fill="#ffffff" textLength="12.53" lengthAdjust="spacingAndGlyphs" stroke="#ffffff" stroke-width="3.2" stroke-linejoin="round">6</text><text x="1069.7" y="693.08" font-size="25.6" font-weight="normal" fill="#1c1a1b" textLength="12.53" lengthAdjust="spacingAndGlyphs" stroke="#1c1a1b" stroke-width="0.6" stroke-linejoin="round">3</text><text x="1083.2" y="693.08" font-size="25.6" font-weight="normal" fill="#1c1a1b" textLength="12.53" lengthAdjust="spacingAndGlyphs" stroke="#1c1a1b" stroke-width="0.6" stroke-linejoin="round">6</text></svg>
</body></html>
